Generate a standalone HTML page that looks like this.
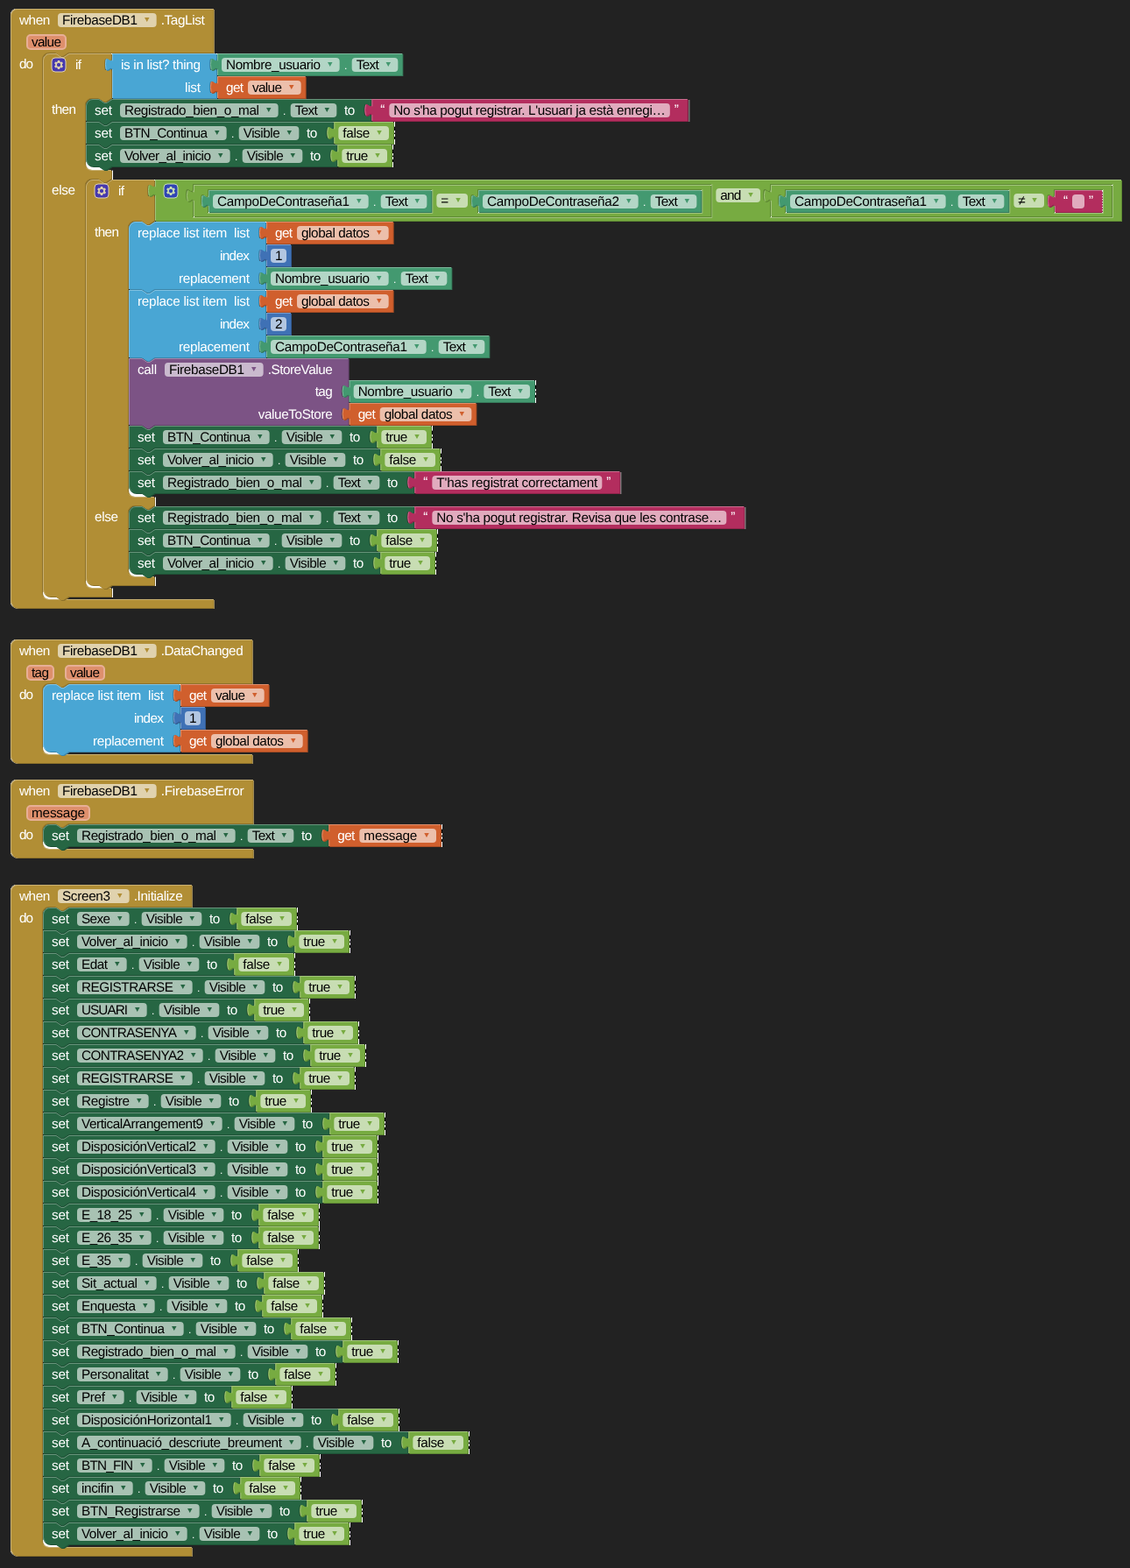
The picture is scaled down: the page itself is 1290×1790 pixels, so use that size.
<!DOCTYPE html>
<html lang="ca">
<head>
<meta charset="utf-8">
<title>Blocks</title>
<style>
html,body{margin:0;padding:0;background:#222222;}
body{width:1290px;height:1790px;overflow:hidden;}
svg{display:block;}
text{font-family:"Liberation Sans",sans-serif;font-size:15.3px;white-space:pre;text-rendering:geometricPrecision;}
.w{fill:#fff;}
.dot{font-size:12px;}
.k{fill:#000;}
.a{font-family:"DejaVu Sans","Liberation Sans",sans-serif;font-size:11px;}
.e{fill:#fff;fill-opacity:.6;}
.p{fill:rgb(222,143,108);stroke:rgb(231,175,150);stroke-width:2;}
.l{fill:none;stroke-linecap:round;stroke-width:1;}
.ic{opacity:.6;}
.is{fill:#00f;stroke:#fff;stroke-width:1px;}
.iy{fill:#fff;}
.dsh{fill:none;stroke:#fff;stroke-opacity:.75;stroke-width:1;stroke-dasharray:1.5 1.5;}
.pk{fill:#fff;}
.cs{fill:none;stroke:#fff;stroke-width:1.4;stroke-opacity:.7;stroke-linecap:butt;}
.wc{fill:#fff;}
.bc{fill:#000;}
.fc{fill:#fff;fill-opacity:.55;}
</style>
</head>
<body>
<svg width="1290" height="1790" viewBox="0 0 1290 1790">
<rect width="1290" height="1790" fill="#222222"/>
<g transform="translate(12,10)"><path class="pk" d="m 0,8 A 8,8 0 0,1 8,0 H 231.67 v 25 v 25 H 66 l -6,4 -3,0 -6,-4 h -7 a 8,8 0 0,0 -8,8 v 608 a 8,8 0 0,0 8,8 H 231.67 v 10 H 8 a 8,8 0 0,1 -8,-8 z "/><path class="pk" transform="translate(1,1)" d="m 0,8 A 8,8 0 0,1 8,0 H 231.67 v 25 v 25 H 66 l -6,4 -3,0 -6,-4 h -7 a 8,8 0 0,0 -8,8 v 608 a 8,8 0 0,0 8,8 H 231.67 v 10 H 8 a 8,8 0 0,1 -8,-8 z "/><path class="cs" d="M 0.48,5.26 A 8,8 0 0,1 5.26,0.48 M 5.26,683.52 A 8,8 0 0,1 0.48,678.74"/><rect class="pk" x="36" y="661" width="23" height="13.5"/><path class="d" fill="rgb(142,114,42)" transform="translate(1,1)" d="m 0,8 A 8,8 0 0,1 8,0 H 231.67 v 25 v 25 H 66 l -6,4 -3,0 -6,-4 h -7 a 8,8 0 0,0 -8,8 v 608 a 8,8 0 0,0 8,8 H 231.67 v 10 H 8 a 8,8 0 0,1 -8,-8 z "/><path fill="#B18E35" d="m 0,8 A 8,8 0 0,1 8,0 H 231.67 v 25 v 25 H 66 l -6,4 -3,0 -6,-4 h -7 a 8,8 0 0,0 -8,8 v 608 a 8,8 0 0,0 8,8 H 231.67 v 10 H 8 a 8,8 0 0,1 -8,-8 z "/><path class="l" stroke="rgb(200,176,114)" d="m 0.5,7.5 A 7.5,7.5 0 0,1 8,0.5 H 231.17 M 231.17,0.5 M 231.17,25.5 M 231.17,50.5 M 37.99,672.01 a 8.5,8.5 0 0,0 6.0104076400856545,2.4895923599143455 H 231.17 M 2.7,681.3 A 7.5,7.5 0 0,1 0.5,676 V 8 "/><text class="w" x="10" y="18" textLength="39">when </text><rect class="e" x="54" y="5" width="112.67" height="16" rx="4" ry="4"/><text class="k" x="59" y="18" textLength="86">FirebaseDB1</text><text class="a" fill="#B18E35" transform="translate(152.9,15.05) scale(1,0.9)">▾</text><text class="w" x="171.67" y="18" textLength="50">.TagList</text><text class="w" x="10" y="43"> </text><rect class="p" x="19" y="30" width="44" height="16" rx="4" ry="4"/><text class="k" x="24" y="43" textLength="34">value</text><text class="w" x="68" y="43"> </text><text class="w" x="10" y="68" textLength="16">do</text><g transform="translate(37,51)"><rect class="pk" x="78" y="0" width="1" height="1"/><rect class="pk" x="48" y="120" width="23" height="13.5"/><rect class="pk" x="48" y="597" width="23" height="13.5"/><path class="d" fill="rgb(142,114,42)" transform="translate(1,1)" d="m 0,8 A 8,8 0 0,1 8,0 H 15 l 6,4 3,0 6,-4 H 78 v 5 c 0,10 -8,-8 -8,7.5 s 8,-2.5 8,7.5 v 31 H 78 l -6,4 -3,0 -6,-4 h -7 a 8,8 0 0,0 -8,8 v 66 a 8,8 0 0,0 8,8 H 78 v 10 H 78 l -6,4 -3,0 -6,-4 h -7 a 8,8 0 0,0 -8,8 v 451 a 8,8 0 0,0 8,8 H 78 v 10 H 29.5 l -6,4 -3,0 -6,-4 H 8 a 8,8 0 0,1 -8,-8 z "/><path fill="#B18E35" d="m 0,8 A 8,8 0 0,1 8,0 H 15 l 6,4 3,0 6,-4 H 78 v 5 c 0,10 -8,-8 -8,7.5 s 8,-2.5 8,7.5 v 31 H 78 l -6,4 -3,0 -6,-4 h -7 a 8,8 0 0,0 -8,8 v 66 a 8,8 0 0,0 8,8 H 78 v 10 H 78 l -6,4 -3,0 -6,-4 h -7 a 8,8 0 0,0 -8,8 v 451 a 8,8 0 0,0 8,8 H 78 v 10 H 29.5 l -6,4 -3,0 -6,-4 H 8 a 8,8 0 0,1 -8,-8 z "/><path class="l" stroke="rgb(200,176,114)" d="m 0.5,7.5 A 7.5,7.5 0 0,1 8,0.5 H 15 l 6,4 3,0 6,-4 H 77.5 M 77.5,0.5 M 73,19.3 l 3.68,-2.1 M 77.5,51.5 M 49.99,131.01 a 8.5,8.5 0 0,0 6.0104076400856545,2.4895923599143455 H 77.5 M 77.5,143.5 M 49.99,608.01 a 8.5,8.5 0 0,0 6.0104076400856545,2.4895923599143455 H 77.5 M 2.7,617.3 A 7.5,7.5 0 0,1 0.5,612 V 8 "/><text class="w" x="37" y="18" textLength="7">if</text><text class="w" x="10" y="69" textLength="28">then</text><text class="w" x="10" y="161" textLength="27">else</text><g class="ic" transform="translate(10,5)"><rect class="is" rx="4" ry="4" height="16" width="16"/><path class="iy" d="m4.203,7.296 0,1.368 -0.92,0.677 -0.11,0.41 0.9,1.559 0.41,0.11 1.043,-0.457 1.187,0.683 0.127,1.134 0.3,0.3 1.8,0 0.3,-0.299 0.127,-1.138 1.185,-0.682 1.046,0.458 0.409,-0.11 0.9,-1.559 -0.11,-0.41 -0.92,-0.677 0,-1.366 0.92,-0.677 0.11,-0.41 -0.9,-1.559 -0.409,-0.109 -1.046,0.458 -1.185,-0.682 -0.127,-1.138 -0.3,-0.299 -1.8,0 -0.3,0.3 -0.126,1.135 -1.187,0.682 -1.043,-0.457 -0.41,0.11 -0.899,1.559 0.108,0.409z"/><circle class="is" r="2.7" cx="8" cy="8"/></g><rect class="wc" x="79" y="133.5" width="1" height="10.5"/><rect class="wc" x="79" y="610.5" width="1" height="10.5"/><g transform="translate(79,0)"><rect class="pk" x="119" y="0" width="1" height="1"/><rect class="pk" x="119" y="26" width="1" height="1"/><path class="d" fill="rgb(58,133,170)" transform="translate(1,1)" d="m 0,0 H 119 v 5 c 0,10 -8,-8 -8,7.5 s 8,-2.5 8,7.5 v 6 v 5 c 0,10 -8,-8 -8,7.5 s 8,-2.5 8,7.5 v 5 H 0 V 20 c 0,-10 -8,8 -8,-7.5 s 8,2.5 8,-7.5 z "/><path fill="#49A6D4" d="m 0,0 H 119 v 5 c 0,10 -8,-8 -8,7.5 s 8,-2.5 8,7.5 v 6 v 5 c 0,10 -8,-8 -8,7.5 s 8,-2.5 8,7.5 v 5 H 0 V 20 c 0,-10 -8,8 -8,-7.5 s 8,2.5 8,-7.5 z "/><path class="l" stroke="rgb(128,193,225)" d="m 0.5,0.5 H 118.5 M 118.5,0.5 M 114,19.3 l 3.68,-2.1 M 118.5,26.5 M 114,45.3 l 3.68,-2.1 M 0.5,50.5 V 18.5 m -7.36,-0.5 q -1.52,-5.5 0,-11 m 7.36,1 V 0.5 H 1 "/><text class="w" x="10" y="18" textLength="91">is in list? thing</text><text class="w" x="83" y="44" textLength="18">list</text><g transform="translate(120,0)"><path class="d" fill="rgb(54,122,90)" transform="translate(1,1)" d="m 0,0 H 211.33 v 25 H 0 V 20 c 0,-10 -8,8 -8,-7.5 s 8,2.5 8,-7.5 z "/><path fill="#439970" d="m 0,0 H 211.33 v 25 H 0 V 20 c 0,-10 -8,8 -8,-7.5 s 8,2.5 8,-7.5 z "/><path class="l" stroke="rgb(123,184,155)" d="m 0.5,0.5 H 210.83 M 210.83,0.5 M 0.5,24.5 V 18.5 m -7.36,-0.5 q -1.52,-5.5 0,-11 m 7.36,1 V 0.5 H 1 "/><rect class="e" x="5" y="5" width="134.67" height="16" rx="4" ry="4"/><text class="k" x="10" y="18" textLength="108">Nombre_usuario</text><text class="a" fill="#439970" transform="translate(125.9,15.05) scale(1,0.9)">▾</text><text class="w dot" x="144.97" y="18">.</text><rect class="e" x="153.67" y="5" width="52.67" height="16" rx="4" ry="4"/><text class="k" x="158.67" y="18" textLength="26">Text</text><text class="a" fill="#439970" transform="translate(192.57,15.05) scale(1,0.9)">▾</text></g><g transform="translate(120,26)"><path class="d" fill="rgb(166,76,36)" transform="translate(1,1)" d="m 0,0 H 100.67 v 25 H 0 V 20 c 0,-10 -8,8 -8,-7.5 s 8,2.5 8,-7.5 z "/><path fill="#D05F2D" d="m 0,0 H 100.67 v 25 H 0 V 20 c 0,-10 -8,8 -8,-7.5 s 8,2.5 8,-7.5 z "/><path class="l" stroke="rgb(222,143,108)" d="m 0.5,0.5 H 100.17 M 100.17,0.5 M 0.5,24.5 V 18.5 m -7.36,-0.5 q -1.52,-5.5 0,-11 m 7.36,1 V 0.5 H 1 "/><text class="w" x="10" y="18" textLength="20">get</text><rect class="e" x="35" y="5" width="60.67" height="16" rx="4" ry="4"/><text class="k" x="40" y="18" textLength="34">value</text><text class="a" fill="#D05F2D" transform="translate(81.9,15.05) scale(1,0.9)">▾</text></g></g><g transform="translate(49,52)"><rect class="pk" x="325.33" y="0" width="1" height="1"/><path class="d" fill="rgb(30,82,54)" transform="translate(1,1)" d="m 0,8 A 8,8 0 0,1 8,0 H 15 l 6,4 3,0 6,-4 H 325.33 v 5 c 0,10 -8,-8 -8,7.5 s 8,-2.5 8,7.5 v 5 H 29.5 l -6,4 -3,0 -6,-4 H 0 z "/><path fill="#266643" d="m 0,8 A 8,8 0 0,1 8,0 H 15 l 6,4 3,0 6,-4 H 325.33 v 5 c 0,10 -8,-8 -8,7.5 s 8,-2.5 8,7.5 v 5 H 29.5 l -6,4 -3,0 -6,-4 H 0 z "/><path class="l" stroke="rgb(103,148,123)" d="m 0.5,7.5 A 7.5,7.5 0 0,1 8,0.5 H 15 l 6,4 3,0 6,-4 H 324.83 M 324.83,0.5 M 320.33,19.3 l 3.68,-2.1 M 0.5,24.5 V 8 "/><text class="w" x="10" y="18" textLength="24">set </text><rect class="e" x="39" y="5" width="180.67" height="16" rx="4" ry="4"/><text class="k" x="44" y="18" textLength="154">Registrado_bien_o_mal</text><text class="a" fill="#266643" transform="translate(205.9,15.05) scale(1,0.9)">▾</text><text class="w dot" x="224.97" y="18">.</text><rect class="e" x="233.67" y="5" width="52.67" height="16" rx="4" ry="4"/><text class="k" x="238.67" y="18" textLength="26">Text</text><text class="a" fill="#266643" transform="translate(272.57,15.05) scale(1,0.9)">▾</text><text class="w" x="291.33" y="18" textLength="16"> to</text><g transform="translate(326.33,0)"><path class="d" fill="rgb(143,36,75)" transform="translate(1,1)" d="m 0,0 H 360.5 v 25 H 0 V 20 c 0,-10 -8,8 -8,-7.5 s 8,2.5 8,-7.5 z "/><path fill="#B32D5E" d="m 0,0 H 360.5 v 25 H 0 V 20 c 0,-10 -8,8 -8,-7.5 s 8,2.5 8,-7.5 z "/><path class="l" stroke="rgb(202,108,142)" d="m 0.5,0.5 H 360 M 360,0.5 M 0.5,24.5 V 18.5 m -7.36,-0.5 q -1.52,-5.5 0,-11 m 7.36,1 V 0.5 H 1 "/><text class="w" x="10" y="16.7">“</text><rect class="e" x="20" y="5" width="320.5" height="16" rx="4" ry="4"/><text class="k" x="25" y="18" textLength="310.5">No s'ha pogut registrar. L'usuari ja està enregi…</text><text class="w" x="345.5" y="16.7">”</text><rect class="fc" x="362" y="1" width="1" height="25"/></g><g transform="translate(0,26)"><rect class="pk" x="282.33" y="0" width="1" height="1"/><path class="d" fill="rgb(30,82,54)" transform="translate(1,1)" d="m 0,0 H 15 l 6,4 3,0 6,-4 H 282.33 v 5 c 0,10 -8,-8 -8,7.5 s 8,-2.5 8,7.5 v 5 H 29.5 l -6,4 -3,0 -6,-4 H 0 z "/><path fill="#266643" d="m 0,0 H 15 l 6,4 3,0 6,-4 H 282.33 v 5 c 0,10 -8,-8 -8,7.5 s 8,-2.5 8,7.5 v 5 H 29.5 l -6,4 -3,0 -6,-4 H 0 z "/><path class="l" stroke="rgb(103,148,123)" d="m 0.5,0.5 H 15 l 6,4 3,0 6,-4 H 281.83 M 281.83,0.5 M 277.33,19.3 l 3.68,-2.1 M 0.5,24.5 V 0.5 "/><text class="w" x="10" y="18" textLength="24">set </text><rect class="e" x="39" y="5" width="121.67" height="16" rx="4" ry="4"/><text class="k" x="44" y="18" textLength="95">BTN_Continua</text><text class="a" fill="#266643" transform="translate(146.9,15.05) scale(1,0.9)">▾</text><text class="w dot" x="165.97" y="18">.</text><rect class="e" x="174.67" y="5" width="68.67" height="16" rx="4" ry="4"/><text class="k" x="179.67" y="18" textLength="42">Visible</text><text class="a" fill="#266643" transform="translate(229.57,15.05) scale(1,0.9)">▾</text><text class="w" x="248.33" y="18" textLength="16"> to</text><g transform="translate(283.33,0)"><path class="d" fill="rgb(95,137,52)" transform="translate(1,1)" d="m 0,0 H 67.67 v 25 H 0 V 20 c 0,-10 -8,8 -8,-7.5 s 8,2.5 8,-7.5 z "/><path fill="#77AB41" d="m 0,0 H 67.67 v 25 H 0 V 20 c 0,-10 -8,8 -8,-7.5 s 8,2.5 8,-7.5 z "/><path class="l" stroke="rgb(160,196,122)" d="m 0.5,0.5 H 67.17 M 67.17,0.5 M 0.5,24.5 V 18.5 m -7.36,-0.5 q -1.52,-5.5 0,-11 m 7.36,1 V 0.5 H 1 "/><rect class="e" x="5" y="5" width="57.67" height="16" rx="4" ry="4"/><text class="k" x="10" y="18" textLength="31">false</text><text class="a" fill="#77AB41" transform="translate(48.9,15.05) scale(1,0.9)">▾</text><rect class="wc" x="68.67" y="0" width="1" height="5.8"/><rect class="bc" x="68.67" y="5.8" width="1" height="4.2"/><rect class="wc" x="68.67" y="10" width="1" height="2.8"/><rect class="bc" x="68.67" y="12.8" width="1" height="1.2"/><rect class="wc" x="68.67" y="14" width="1" height="3"/><rect class="bc" x="68.67" y="17" width="1" height="3"/><rect class="wc" x="68.67" y="20" width="1" height="6"/></g><g transform="translate(0,26)"><rect class="pk" x="286.33" y="0" width="1" height="1"/><path class="d" fill="rgb(30,82,54)" transform="translate(1,1)" d="m 0,0 H 15 l 6,4 3,0 6,-4 H 286.33 v 5 c 0,10 -8,-8 -8,7.5 s 8,-2.5 8,7.5 v 5 H 29.5 l -6,4 -3,0 -6,-4 H 8 a 8,8 0 0,1 -8,-8 z "/><path fill="#266643" d="m 0,0 H 15 l 6,4 3,0 6,-4 H 286.33 v 5 c 0,10 -8,-8 -8,7.5 s 8,-2.5 8,7.5 v 5 H 29.5 l -6,4 -3,0 -6,-4 H 8 a 8,8 0 0,1 -8,-8 z "/><path class="l" stroke="rgb(103,148,123)" d="m 0.5,0.5 H 15 l 6,4 3,0 6,-4 H 285.83 M 285.83,0.5 M 281.33,19.3 l 3.68,-2.1 M 2.7,22.3 A 7.5,7.5 0 0,1 0.5,17 V 0.5 "/><text class="w" x="10" y="18" textLength="24">set </text><rect class="e" x="39" y="5" width="125.67" height="16" rx="4" ry="4"/><text class="k" x="44" y="18" textLength="99">Volver_al_inicio</text><text class="a" fill="#266643" transform="translate(150.9,15.05) scale(1,0.9)">▾</text><text class="w dot" x="169.97" y="18">.</text><rect class="e" x="178.67" y="5" width="68.67" height="16" rx="4" ry="4"/><text class="k" x="183.67" y="18" textLength="42">Visible</text><text class="a" fill="#266643" transform="translate(233.57,15.05) scale(1,0.9)">▾</text><text class="w" x="252.33" y="18" textLength="16"> to</text><g transform="translate(287.33,0)"><path class="d" fill="rgb(95,137,52)" transform="translate(1,1)" d="m 0,0 H 61.67 v 25 H 0 V 20 c 0,-10 -8,8 -8,-7.5 s 8,2.5 8,-7.5 z "/><path fill="#77AB41" d="m 0,0 H 61.67 v 25 H 0 V 20 c 0,-10 -8,8 -8,-7.5 s 8,2.5 8,-7.5 z "/><path class="l" stroke="rgb(160,196,122)" d="m 0.5,0.5 H 61.17 M 61.17,0.5 M 0.5,24.5 V 18.5 m -7.36,-0.5 q -1.52,-5.5 0,-11 m 7.36,1 V 0.5 H 1 "/><rect class="e" x="5" y="5" width="51.67" height="16" rx="4" ry="4"/><text class="k" x="10" y="18" textLength="25">true</text><text class="a" fill="#77AB41" transform="translate(42.9,15.05) scale(1,0.9)">▾</text><rect class="wc" x="62.67" y="0" width="1" height="5.8"/><rect class="bc" x="62.67" y="5.8" width="1" height="4.2"/><rect class="wc" x="62.67" y="10" width="1" height="2.8"/><rect class="bc" x="62.67" y="12.8" width="1" height="1.2"/><rect class="wc" x="62.67" y="14" width="1" height="3"/><rect class="bc" x="62.67" y="17" width="1" height="3"/><rect class="wc" x="62.67" y="20" width="1" height="6"/></g></g></g></g><g transform="translate(49,144)"><rect class="pk" x="78" y="0" width="1" height="1"/><rect class="pk" x="48" y="349" width="23" height="13.5"/><rect class="pk" x="48" y="440" width="23" height="13.5"/><path class="d" fill="rgb(142,114,42)" transform="translate(1,1)" d="m 0,8 A 8,8 0 0,1 8,0 H 15 l 6,4 3,0 6,-4 H 78 v 5 c 0,10 -8,-8 -8,7.5 s 8,-2.5 8,7.5 v 27 H 78 l -6,4 -3,0 -6,-4 h -7 a 8,8 0 0,0 -8,8 v 299 a 8,8 0 0,0 8,8 H 78 v 10 H 78 l -6,4 -3,0 -6,-4 h -7 a 8,8 0 0,0 -8,8 v 65 a 8,8 0 0,0 8,8 H 78 v 10 H 29.5 l -6,4 -3,0 -6,-4 H 8 a 8,8 0 0,1 -8,-8 z "/><path fill="#B18E35" d="m 0,8 A 8,8 0 0,1 8,0 H 15 l 6,4 3,0 6,-4 H 78 v 5 c 0,10 -8,-8 -8,7.5 s 8,-2.5 8,7.5 v 27 H 78 l -6,4 -3,0 -6,-4 h -7 a 8,8 0 0,0 -8,8 v 299 a 8,8 0 0,0 8,8 H 78 v 10 H 78 l -6,4 -3,0 -6,-4 h -7 a 8,8 0 0,0 -8,8 v 65 a 8,8 0 0,0 8,8 H 78 v 10 H 29.5 l -6,4 -3,0 -6,-4 H 8 a 8,8 0 0,1 -8,-8 z "/><path class="l" stroke="rgb(200,176,114)" d="m 0.5,7.5 A 7.5,7.5 0 0,1 8,0.5 H 15 l 6,4 3,0 6,-4 H 77.5 M 77.5,0.5 M 73,19.3 l 3.68,-2.1 M 77.5,47.5 M 49.99,360.01 a 8.5,8.5 0 0,0 6.0104076400856545,2.4895923599143455 H 77.5 M 77.5,372.5 M 49.99,451.01 a 8.5,8.5 0 0,0 6.0104076400856545,2.4895923599143455 H 77.5 M 2.7,460.3 A 7.5,7.5 0 0,1 0.5,455 V 8 "/><text class="w" x="37" y="18" textLength="7">if</text><text class="w" x="10" y="65" textLength="28">then</text><text class="w" x="10" y="390" textLength="27">else</text><g class="ic" transform="translate(10,5)"><rect class="is" rx="4" ry="4" height="16" width="16"/><path class="iy" d="m4.203,7.296 0,1.368 -0.92,0.677 -0.11,0.41 0.9,1.559 0.41,0.11 1.043,-0.457 1.187,0.683 0.127,1.134 0.3,0.3 1.8,0 0.3,-0.299 0.127,-1.138 1.185,-0.682 1.046,0.458 0.409,-0.11 0.9,-1.559 -0.11,-0.41 -0.92,-0.677 0,-1.366 0.92,-0.677 0.11,-0.41 -0.9,-1.559 -0.409,-0.109 -1.046,0.458 -1.185,-0.682 -0.127,-1.138 -0.3,-0.299 -1.8,0 -0.3,0.3 -0.126,1.135 -1.187,0.682 -1.043,-0.457 -0.41,0.11 -0.899,1.559 0.108,0.409z"/><circle class="is" r="2.7" cx="8" cy="8"/></g><rect class="wc" x="79" y="362.5" width="1" height="10.5"/><rect class="wc" x="79" y="453.5" width="1" height="10.5"/><g transform="translate(79,0)"><rect class="pk" x="43" y="5" width="592.33" height="38"/><rect class="pk" x="702" y="5" width="391" height="38"/><path class="d" fill="rgb(95,137,52)" transform="translate(1,1)" d="m 0,0 H 47 H 1103 v 47 H 0 V 20 c 0,-10 -8,8 -8,-7.5 s 8,2.5 8,-7.5 z M 635.33,5 h -592.33 v 5 c 0,10 -8,-8 -8,7.5 s 8,-2.5 8,7.5 v 18 h 592.33 z M 1093,5 h -391 v 5 c 0,10 -8,-8 -8,7.5 s 8,-2.5 8,7.5 v 18 h 391 z"/><path fill="#77AB41" d="m 0,0 H 47 H 1103 v 47 H 0 V 20 c 0,-10 -8,8 -8,-7.5 s 8,2.5 8,-7.5 z M 635.33,5 h -592.33 v 5 c 0,10 -8,-8 -8,7.5 s 8,-2.5 8,7.5 v 18 h 592.33 z M 1093,5 h -391 v 5 c 0,10 -8,-8 -8,7.5 s 8,-2.5 8,7.5 v 18 h 391 z"/><path class="l" stroke="rgb(160,196,122)" d="m 0.5,0.5 H 46.5 M 46.5,0.5 H 1102.5 M 0.5,46.5 V 18.5 m -7.36,-0.5 q -1.52,-5.5 0,-11 m 7.36,1 V 0.5 H 1 M 635.83,5.5 v 38 h -592.33 M 37.9,24.3 l 3.68,-2.1 M 1093.5,5.5 v 38 h -391 M 696.9,24.3 l 3.68,-2.1"/><rect class="e" x="640.33" y="10" width="50.67" height="16" rx="4" ry="4"/><text class="k" x="645.33" y="23" textLength="24">and</text><text class="a" fill="#77AB41" transform="translate(677.23,20.05) scale(1,0.9)">▾</text><g class="ic" transform="translate(10,5)"><rect class="is" rx="4" ry="4" height="16" width="16"/><path class="iy" d="m4.203,7.296 0,1.368 -0.92,0.677 -0.11,0.41 0.9,1.559 0.41,0.11 1.043,-0.457 1.187,0.683 0.127,1.134 0.3,0.3 1.8,0 0.3,-0.299 0.127,-1.138 1.185,-0.682 1.046,0.458 0.409,-0.11 0.9,-1.559 -0.11,-0.41 -0.92,-0.677 0,-1.366 0.92,-0.677 0.11,-0.41 -0.9,-1.559 -0.409,-0.109 -1.046,0.458 -1.185,-0.682 -0.127,-1.138 -0.3,-0.299 -1.8,0 -0.3,0.3 -0.126,1.135 -1.187,0.682 -1.043,-0.457 -0.41,0.11 -0.899,1.559 0.108,0.409z"/><circle class="is" r="2.7" cx="8" cy="8"/></g><g transform="translate(44,6)"><rect class="pk" x="16" y="5" width="256.33" height="27"/><rect class="pk" x="324" y="5" width="256.33" height="27"/><path class="d" fill="rgb(95,137,52)" transform="translate(1,1)" d="m 0,0 H 20 H 590.33 v 36 H 0 V 20 c 0,-10 -8,8 -8,-7.5 s 8,2.5 8,-7.5 z M 272.33,5 h -256.33 v 5 c 0,10 -8,-8 -8,7.5 s 8,-2.5 8,7.5 v 7 h 256.33 z M 580.33,5 h -256.33 v 5 c 0,10 -8,-8 -8,7.5 s 8,-2.5 8,7.5 v 7 h 256.33 z"/><path fill="#77AB41" d="m 0,0 H 20 H 590.33 v 36 H 0 V 20 c 0,-10 -8,8 -8,-7.5 s 8,2.5 8,-7.5 z M 272.33,5 h -256.33 v 5 c 0,10 -8,-8 -8,7.5 s 8,-2.5 8,7.5 v 7 h 256.33 z M 580.33,5 h -256.33 v 5 c 0,10 -8,-8 -8,7.5 s 8,-2.5 8,7.5 v 7 h 256.33 z"/><path class="l" stroke="rgb(160,196,122)" d="m 0.5,0.5 H 19.5 M 19.5,0.5 H 589.83 M 0.5,35.5 V 18.5 m -7.36,-0.5 q -1.52,-5.5 0,-11 m 7.36,1 V 0.5 H 1 M 272.83,5.5 v 27 h -256.33 M 10.9,24.3 l 3.68,-2.1 M 580.83,5.5 v 27 h -256.33 M 318.9,24.3 l 3.68,-2.1"/><rect class="e" x="277.33" y="10" width="35.67" height="16" rx="4" ry="4"/><text class="k" x="282.33" y="23">=</text><text class="a" fill="#77AB41" transform="translate(299.23,20.05) scale(1,0.9)">▾</text><g transform="translate(17,6)"><path class="d" fill="rgb(54,122,90)" transform="translate(1,1)" d="m 0,0 H 254.33 v 25 H 0 V 20 c 0,-10 -8,8 -8,-7.5 s 8,2.5 8,-7.5 z "/><path fill="#439970" d="m 0,0 H 254.33 v 25 H 0 V 20 c 0,-10 -8,8 -8,-7.5 s 8,2.5 8,-7.5 z "/><path class="l" stroke="rgb(123,184,155)" d="m 0.5,0.5 H 253.83 M 253.83,0.5 M 0.5,24.5 V 18.5 m -7.36,-0.5 q -1.52,-5.5 0,-11 m 7.36,1 V 0.5 H 1 "/><rect class="e" x="5" y="5" width="177.67" height="16" rx="4" ry="4"/><text class="k" x="10" y="18" textLength="151">CampoDeContraseña1</text><text class="a" fill="#439970" transform="translate(168.9,15.05) scale(1,0.9)">▾</text><text class="w dot" x="187.97" y="18">.</text><rect class="e" x="196.67" y="5" width="52.67" height="16" rx="4" ry="4"/><text class="k" x="201.67" y="18" textLength="26">Text</text><text class="a" fill="#439970" transform="translate(235.57,15.05) scale(1,0.9)">▾</text></g><g transform="translate(325,6)"><path class="d" fill="rgb(54,122,90)" transform="translate(1,1)" d="m 0,0 H 254.33 v 25 H 0 V 20 c 0,-10 -8,8 -8,-7.5 s 8,2.5 8,-7.5 z "/><path fill="#439970" d="m 0,0 H 254.33 v 25 H 0 V 20 c 0,-10 -8,8 -8,-7.5 s 8,2.5 8,-7.5 z "/><path class="l" stroke="rgb(123,184,155)" d="m 0.5,0.5 H 253.83 M 253.83,0.5 M 0.5,24.5 V 18.5 m -7.36,-0.5 q -1.52,-5.5 0,-11 m 7.36,1 V 0.5 H 1 "/><rect class="e" x="5" y="5" width="177.67" height="16" rx="4" ry="4"/><text class="k" x="10" y="18" textLength="151">CampoDeContraseña2</text><text class="a" fill="#439970" transform="translate(168.9,15.05) scale(1,0.9)">▾</text><text class="w dot" x="187.97" y="18">.</text><rect class="e" x="196.67" y="5" width="52.67" height="16" rx="4" ry="4"/><text class="k" x="201.67" y="18" textLength="26">Text</text><text class="a" fill="#439970" transform="translate(235.57,15.05) scale(1,0.9)">▾</text></g></g><g transform="translate(703,6)"><rect class="pk" x="16" y="5" width="256.33" height="27"/><rect class="pk" x="323" y="5" width="56" height="27"/><path class="d" fill="rgb(95,137,52)" transform="translate(1,1)" d="m 0,0 H 20 H 389 v 36 H 0 V 20 c 0,-10 -8,8 -8,-7.5 s 8,2.5 8,-7.5 z M 272.33,5 h -256.33 v 5 c 0,10 -8,-8 -8,7.5 s 8,-2.5 8,7.5 v 7 h 256.33 z M 379,5 h -56 v 5 c 0,10 -8,-8 -8,7.5 s 8,-2.5 8,7.5 v 7 h 56 z"/><path fill="#77AB41" d="m 0,0 H 20 H 389 v 36 H 0 V 20 c 0,-10 -8,8 -8,-7.5 s 8,2.5 8,-7.5 z M 272.33,5 h -256.33 v 5 c 0,10 -8,-8 -8,7.5 s 8,-2.5 8,7.5 v 7 h 256.33 z M 379,5 h -56 v 5 c 0,10 -8,-8 -8,7.5 s 8,-2.5 8,7.5 v 7 h 56 z"/><path class="l" stroke="rgb(160,196,122)" d="m 0.5,0.5 H 19.5 M 19.5,0.5 H 388.5 M 0.5,35.5 V 18.5 m -7.36,-0.5 q -1.52,-5.5 0,-11 m 7.36,1 V 0.5 H 1 M 272.83,5.5 v 27 h -256.33 M 10.9,24.3 l 3.68,-2.1 M 379.5,5.5 v 27 h -56 M 317.9,24.3 l 3.68,-2.1"/><rect class="e" x="277.33" y="10" width="34.67" height="16" rx="4" ry="4"/><text class="k" x="282.33" y="23">≠</text><text class="a" fill="#77AB41" transform="translate(298.23,20.05) scale(1,0.9)">▾</text><g transform="translate(17,6)"><path class="d" fill="rgb(54,122,90)" transform="translate(1,1)" d="m 0,0 H 254.33 v 25 H 0 V 20 c 0,-10 -8,8 -8,-7.5 s 8,2.5 8,-7.5 z "/><path fill="#439970" d="m 0,0 H 254.33 v 25 H 0 V 20 c 0,-10 -8,8 -8,-7.5 s 8,2.5 8,-7.5 z "/><path class="l" stroke="rgb(123,184,155)" d="m 0.5,0.5 H 253.83 M 253.83,0.5 M 0.5,24.5 V 18.5 m -7.36,-0.5 q -1.52,-5.5 0,-11 m 7.36,1 V 0.5 H 1 "/><rect class="e" x="5" y="5" width="177.67" height="16" rx="4" ry="4"/><text class="k" x="10" y="18" textLength="151">CampoDeContraseña1</text><text class="a" fill="#439970" transform="translate(168.9,15.05) scale(1,0.9)">▾</text><text class="w dot" x="187.97" y="18">.</text><rect class="e" x="196.67" y="5" width="52.67" height="16" rx="4" ry="4"/><text class="k" x="201.67" y="18" textLength="26">Text</text><text class="a" fill="#439970" transform="translate(235.57,15.05) scale(1,0.9)">▾</text></g><g transform="translate(324,6)"><path class="d" fill="rgb(143,36,75)" transform="translate(1,1)" d="m 0,0 H 54 v 25 H 0 V 20 c 0,-10 -8,8 -8,-7.5 s 8,2.5 8,-7.5 z "/><path fill="#B32D5E" d="m 0,0 H 54 v 25 H 0 V 20 c 0,-10 -8,8 -8,-7.5 s 8,2.5 8,-7.5 z "/><path class="l" stroke="rgb(202,108,142)" d="m 0.5,0.5 H 53.5 M 53.5,0.5 M 0.5,24.5 V 18.5 m -7.36,-0.5 q -1.52,-5.5 0,-11 m 7.36,1 V 0.5 H 1 "/><text class="w" x="10" y="16.7">“</text><rect class="e" x="20" y="5" width="14" height="16" rx="4" ry="4"/><text class="k" x="25" y="18"> </text><text class="w" x="39" y="16.7">”</text><path class="dsh" d="M 54.5,1 v 25"/></g></g></g><g transform="translate(49,48)"><rect class="pk" x="156" y="0" width="1" height="1"/><rect class="pk" x="156" y="26" width="1" height="1"/><rect class="pk" x="156" y="52" width="1" height="1"/><path class="d" fill="rgb(58,133,170)" transform="translate(1,1)" d="m 0,8 A 8,8 0 0,1 8,0 H 15 l 6,4 3,0 6,-4 H 156 v 5 c 0,10 -8,-8 -8,7.5 s 8,-2.5 8,7.5 v 6 v 5 c 0,10 -8,-8 -8,7.5 s 8,-2.5 8,7.5 v 6 v 5 c 0,10 -8,-8 -8,7.5 s 8,-2.5 8,7.5 v 5 H 29.5 l -6,4 -3,0 -6,-4 H 0 z "/><path fill="#49A6D4" d="m 0,8 A 8,8 0 0,1 8,0 H 15 l 6,4 3,0 6,-4 H 156 v 5 c 0,10 -8,-8 -8,7.5 s 8,-2.5 8,7.5 v 6 v 5 c 0,10 -8,-8 -8,7.5 s 8,-2.5 8,7.5 v 6 v 5 c 0,10 -8,-8 -8,7.5 s 8,-2.5 8,7.5 v 5 H 29.5 l -6,4 -3,0 -6,-4 H 0 z "/><path class="l" stroke="rgb(128,193,225)" d="m 0.5,7.5 A 7.5,7.5 0 0,1 8,0.5 H 15 l 6,4 3,0 6,-4 H 155.5 M 155.5,0.5 M 151,19.3 l 3.68,-2.1 M 155.5,26.5 M 151,45.3 l 3.68,-2.1 M 155.5,52.5 M 151,71.3 l 3.68,-2.1 M 0.5,76.5 V 8 "/><text class="w" x="10" y="18" textLength="128">replace list item  list</text><text class="w" x="104" y="44" textLength="34">index</text><text class="w" x="57" y="70" textLength="81">replacement</text><g transform="translate(157,0)"><path class="d" fill="rgb(166,76,36)" transform="translate(1,1)" d="m 0,0 H 144.67 v 25 H 0 V 20 c 0,-10 -8,8 -8,-7.5 s 8,2.5 8,-7.5 z "/><path fill="#D05F2D" d="m 0,0 H 144.67 v 25 H 0 V 20 c 0,-10 -8,8 -8,-7.5 s 8,2.5 8,-7.5 z "/><path class="l" stroke="rgb(222,143,108)" d="m 0.5,0.5 H 144.17 M 144.17,0.5 M 0.5,24.5 V 18.5 m -7.36,-0.5 q -1.52,-5.5 0,-11 m 7.36,1 V 0.5 H 1 "/><text class="w" x="10" y="18" textLength="20">get</text><rect class="e" x="35" y="5" width="104.67" height="16" rx="4" ry="4"/><text class="k" x="40" y="18" textLength="78">global datos</text><text class="a" fill="#D05F2D" transform="translate(125.9,15.05) scale(1,0.9)">▾</text></g><g transform="translate(157,26)"><path class="d" fill="rgb(50,90,145)" transform="translate(1,1)" d="m 0,0 H 28 v 25 H 0 V 20 c 0,-10 -8,8 -8,-7.5 s 8,2.5 8,-7.5 z "/><path fill="#3F71B5" d="m 0,0 H 28 v 25 H 0 V 20 c 0,-10 -8,8 -8,-7.5 s 8,2.5 8,-7.5 z "/><path class="l" stroke="rgb(121,156,203)" d="m 0.5,0.5 H 27.5 M 27.5,0.5 M 0.5,24.5 V 18.5 m -7.36,-0.5 q -1.52,-5.5 0,-11 m 7.36,1 V 0.5 H 1 "/><rect class="e" x="5" y="5" width="18" height="16" rx="4" ry="4"/><text class="k" x="10" y="18">1</text></g><g transform="translate(157,52)"><path class="d" fill="rgb(54,122,90)" transform="translate(1,1)" d="m 0,0 H 211.33 v 25 H 0 V 20 c 0,-10 -8,8 -8,-7.5 s 8,2.5 8,-7.5 z "/><path fill="#439970" d="m 0,0 H 211.33 v 25 H 0 V 20 c 0,-10 -8,8 -8,-7.5 s 8,2.5 8,-7.5 z "/><path class="l" stroke="rgb(123,184,155)" d="m 0.5,0.5 H 210.83 M 210.83,0.5 M 0.5,24.5 V 18.5 m -7.36,-0.5 q -1.52,-5.5 0,-11 m 7.36,1 V 0.5 H 1 "/><rect class="e" x="5" y="5" width="134.67" height="16" rx="4" ry="4"/><text class="k" x="10" y="18" textLength="108">Nombre_usuario</text><text class="a" fill="#439970" transform="translate(125.9,15.05) scale(1,0.9)">▾</text><text class="w dot" x="144.97" y="18">.</text><rect class="e" x="153.67" y="5" width="52.67" height="16" rx="4" ry="4"/><text class="k" x="158.67" y="18" textLength="26">Text</text><text class="a" fill="#439970" transform="translate(192.57,15.05) scale(1,0.9)">▾</text></g><g transform="translate(0,78)"><rect class="pk" x="156" y="0" width="1" height="1"/><rect class="pk" x="156" y="26" width="1" height="1"/><rect class="pk" x="156" y="52" width="1" height="1"/><path class="d" fill="rgb(58,133,170)" transform="translate(1,1)" d="m 0,0 H 15 l 6,4 3,0 6,-4 H 156 v 5 c 0,10 -8,-8 -8,7.5 s 8,-2.5 8,7.5 v 6 v 5 c 0,10 -8,-8 -8,7.5 s 8,-2.5 8,7.5 v 6 v 5 c 0,10 -8,-8 -8,7.5 s 8,-2.5 8,7.5 v 5 H 29.5 l -6,4 -3,0 -6,-4 H 0 z "/><path fill="#49A6D4" d="m 0,0 H 15 l 6,4 3,0 6,-4 H 156 v 5 c 0,10 -8,-8 -8,7.5 s 8,-2.5 8,7.5 v 6 v 5 c 0,10 -8,-8 -8,7.5 s 8,-2.5 8,7.5 v 6 v 5 c 0,10 -8,-8 -8,7.5 s 8,-2.5 8,7.5 v 5 H 29.5 l -6,4 -3,0 -6,-4 H 0 z "/><path class="l" stroke="rgb(128,193,225)" d="m 0.5,0.5 H 15 l 6,4 3,0 6,-4 H 155.5 M 155.5,0.5 M 151,19.3 l 3.68,-2.1 M 155.5,26.5 M 151,45.3 l 3.68,-2.1 M 155.5,52.5 M 151,71.3 l 3.68,-2.1 M 0.5,76.5 V 0.5 "/><text class="w" x="10" y="18" textLength="128">replace list item  list</text><text class="w" x="104" y="44" textLength="34">index</text><text class="w" x="57" y="70" textLength="81">replacement</text><g transform="translate(157,0)"><path class="d" fill="rgb(166,76,36)" transform="translate(1,1)" d="m 0,0 H 144.67 v 25 H 0 V 20 c 0,-10 -8,8 -8,-7.5 s 8,2.5 8,-7.5 z "/><path fill="#D05F2D" d="m 0,0 H 144.67 v 25 H 0 V 20 c 0,-10 -8,8 -8,-7.5 s 8,2.5 8,-7.5 z "/><path class="l" stroke="rgb(222,143,108)" d="m 0.5,0.5 H 144.17 M 144.17,0.5 M 0.5,24.5 V 18.5 m -7.36,-0.5 q -1.52,-5.5 0,-11 m 7.36,1 V 0.5 H 1 "/><text class="w" x="10" y="18" textLength="20">get</text><rect class="e" x="35" y="5" width="104.67" height="16" rx="4" ry="4"/><text class="k" x="40" y="18" textLength="78">global datos</text><text class="a" fill="#D05F2D" transform="translate(125.9,15.05) scale(1,0.9)">▾</text></g><g transform="translate(157,26)"><path class="d" fill="rgb(50,90,145)" transform="translate(1,1)" d="m 0,0 H 28 v 25 H 0 V 20 c 0,-10 -8,8 -8,-7.5 s 8,2.5 8,-7.5 z "/><path fill="#3F71B5" d="m 0,0 H 28 v 25 H 0 V 20 c 0,-10 -8,8 -8,-7.5 s 8,2.5 8,-7.5 z "/><path class="l" stroke="rgb(121,156,203)" d="m 0.5,0.5 H 27.5 M 27.5,0.5 M 0.5,24.5 V 18.5 m -7.36,-0.5 q -1.52,-5.5 0,-11 m 7.36,1 V 0.5 H 1 "/><rect class="e" x="5" y="5" width="18" height="16" rx="4" ry="4"/><text class="k" x="10" y="18">2</text></g><g transform="translate(157,52)"><path class="d" fill="rgb(54,122,90)" transform="translate(1,1)" d="m 0,0 H 254.33 v 25 H 0 V 20 c 0,-10 -8,8 -8,-7.5 s 8,2.5 8,-7.5 z "/><path fill="#439970" d="m 0,0 H 254.33 v 25 H 0 V 20 c 0,-10 -8,8 -8,-7.5 s 8,2.5 8,-7.5 z "/><path class="l" stroke="rgb(123,184,155)" d="m 0.5,0.5 H 253.83 M 253.83,0.5 M 0.5,24.5 V 18.5 m -7.36,-0.5 q -1.52,-5.5 0,-11 m 7.36,1 V 0.5 H 1 "/><rect class="e" x="5" y="5" width="177.67" height="16" rx="4" ry="4"/><text class="k" x="10" y="18" textLength="151">CampoDeContraseña1</text><text class="a" fill="#439970" transform="translate(168.9,15.05) scale(1,0.9)">▾</text><text class="w dot" x="187.97" y="18">.</text><rect class="e" x="196.67" y="5" width="52.67" height="16" rx="4" ry="4"/><text class="k" x="201.67" y="18" textLength="26">Text</text><text class="a" fill="#439970" transform="translate(235.57,15.05) scale(1,0.9)">▾</text></g><g transform="translate(0,78)"><rect class="pk" x="250.67" y="25" width="1" height="1"/><rect class="pk" x="250.67" y="51" width="1" height="1"/><path class="d" fill="rgb(99,66,106)" transform="translate(1,1)" d="m 0,0 H 15 l 6,4 3,0 6,-4 H 250.67 v 25 v 5 c 0,10 -8,-8 -8,7.5 s 8,-2.5 8,7.5 v 6 v 5 c 0,10 -8,-8 -8,7.5 s 8,-2.5 8,7.5 v 5 H 29.5 l -6,4 -3,0 -6,-4 H 0 z "/><path fill="#7C5385" d="m 0,0 H 15 l 6,4 3,0 6,-4 H 250.67 v 25 v 5 c 0,10 -8,-8 -8,7.5 s 8,-2.5 8,7.5 v 6 v 5 c 0,10 -8,-8 -8,7.5 s 8,-2.5 8,7.5 v 5 H 29.5 l -6,4 -3,0 -6,-4 H 0 z "/><path class="l" stroke="rgb(163,135,170)" d="m 0.5,0.5 H 15 l 6,4 3,0 6,-4 H 250.17 M 250.17,0.5 M 250.17,25.5 M 245.67,44.3 l 3.68,-2.1 M 250.17,51.5 M 245.67,70.3 l 3.68,-2.1 M 0.5,75.5 V 0.5 "/><text class="w" x="10" y="18" textLength="26">call </text><rect class="e" x="41" y="5" width="112.67" height="16" rx="4" ry="4"/><text class="k" x="46" y="18" textLength="86">FirebaseDB1</text><text class="a" fill="#7C5385" transform="translate(139.9,15.05) scale(1,0.9)">▾</text><text class="w" x="158.67" y="18" textLength="74">.StoreValue</text><text class="w" x="212.67" y="43" textLength="20">tag</text><text class="w" x="147.67" y="69" textLength="85">valueToStore</text><g transform="translate(251.67,25)"><path class="d" fill="rgb(54,122,90)" transform="translate(1,1)" d="m 0,0 H 211.33 v 25 H 0 V 20 c 0,-10 -8,8 -8,-7.5 s 8,2.5 8,-7.5 z "/><path fill="#439970" d="m 0,0 H 211.33 v 25 H 0 V 20 c 0,-10 -8,8 -8,-7.5 s 8,2.5 8,-7.5 z "/><path class="l" stroke="rgb(123,184,155)" d="m 0.5,0.5 H 210.83 M 210.83,0.5 M 0.5,24.5 V 18.5 m -7.36,-0.5 q -1.52,-5.5 0,-11 m 7.36,1 V 0.5 H 1 "/><rect class="e" x="5" y="5" width="134.67" height="16" rx="4" ry="4"/><text class="k" x="10" y="18" textLength="108">Nombre_usuario</text><text class="a" fill="#439970" transform="translate(125.9,15.05) scale(1,0.9)">▾</text><text class="w dot" x="144.97" y="18">.</text><rect class="e" x="153.67" y="5" width="52.67" height="16" rx="4" ry="4"/><text class="k" x="158.67" y="18" textLength="26">Text</text><text class="a" fill="#439970" transform="translate(192.57,15.05) scale(1,0.9)">▾</text><rect class="wc" x="212.33" y="0" width="1" height="5.8"/><rect class="bc" x="212.33" y="5.8" width="1" height="4.2"/><rect class="wc" x="212.33" y="10" width="1" height="2.8"/><rect class="bc" x="212.33" y="12.8" width="1" height="1.2"/><rect class="wc" x="212.33" y="14" width="1" height="3"/><rect class="bc" x="212.33" y="17" width="1" height="3"/><rect class="wc" x="212.33" y="20" width="1" height="6"/></g><g transform="translate(251.67,51)"><path class="d" fill="rgb(166,76,36)" transform="translate(1,1)" d="m 0,0 H 144.67 v 25 H 0 V 20 c 0,-10 -8,8 -8,-7.5 s 8,2.5 8,-7.5 z "/><path fill="#D05F2D" d="m 0,0 H 144.67 v 25 H 0 V 20 c 0,-10 -8,8 -8,-7.5 s 8,2.5 8,-7.5 z "/><path class="l" stroke="rgb(222,143,108)" d="m 0.5,0.5 H 144.17 M 144.17,0.5 M 0.5,24.5 V 18.5 m -7.36,-0.5 q -1.52,-5.5 0,-11 m 7.36,1 V 0.5 H 1 "/><text class="w" x="10" y="18" textLength="20">get</text><rect class="e" x="35" y="5" width="104.67" height="16" rx="4" ry="4"/><text class="k" x="40" y="18" textLength="78">global datos</text><text class="a" fill="#D05F2D" transform="translate(125.9,15.05) scale(1,0.9)">▾</text></g><g transform="translate(0,77)"><rect class="pk" x="282.33" y="0" width="1" height="1"/><path class="d" fill="rgb(30,82,54)" transform="translate(1,1)" d="m 0,0 H 15 l 6,4 3,0 6,-4 H 282.33 v 5 c 0,10 -8,-8 -8,7.5 s 8,-2.5 8,7.5 v 5 H 29.5 l -6,4 -3,0 -6,-4 H 0 z "/><path fill="#266643" d="m 0,0 H 15 l 6,4 3,0 6,-4 H 282.33 v 5 c 0,10 -8,-8 -8,7.5 s 8,-2.5 8,7.5 v 5 H 29.5 l -6,4 -3,0 -6,-4 H 0 z "/><path class="l" stroke="rgb(103,148,123)" d="m 0.5,0.5 H 15 l 6,4 3,0 6,-4 H 281.83 M 281.83,0.5 M 277.33,19.3 l 3.68,-2.1 M 0.5,24.5 V 0.5 "/><text class="w" x="10" y="18" textLength="24">set </text><rect class="e" x="39" y="5" width="121.67" height="16" rx="4" ry="4"/><text class="k" x="44" y="18" textLength="95">BTN_Continua</text><text class="a" fill="#266643" transform="translate(146.9,15.05) scale(1,0.9)">▾</text><text class="w dot" x="165.97" y="18">.</text><rect class="e" x="174.67" y="5" width="68.67" height="16" rx="4" ry="4"/><text class="k" x="179.67" y="18" textLength="42">Visible</text><text class="a" fill="#266643" transform="translate(229.57,15.05) scale(1,0.9)">▾</text><text class="w" x="248.33" y="18" textLength="16"> to</text><g transform="translate(283.33,0)"><path class="d" fill="rgb(95,137,52)" transform="translate(1,1)" d="m 0,0 H 61.67 v 25 H 0 V 20 c 0,-10 -8,8 -8,-7.5 s 8,2.5 8,-7.5 z "/><path fill="#77AB41" d="m 0,0 H 61.67 v 25 H 0 V 20 c 0,-10 -8,8 -8,-7.5 s 8,2.5 8,-7.5 z "/><path class="l" stroke="rgb(160,196,122)" d="m 0.5,0.5 H 61.17 M 61.17,0.5 M 0.5,24.5 V 18.5 m -7.36,-0.5 q -1.52,-5.5 0,-11 m 7.36,1 V 0.5 H 1 "/><rect class="e" x="5" y="5" width="51.67" height="16" rx="4" ry="4"/><text class="k" x="10" y="18" textLength="25">true</text><text class="a" fill="#77AB41" transform="translate(42.9,15.05) scale(1,0.9)">▾</text><rect class="wc" x="62.67" y="0" width="1" height="5.8"/><rect class="bc" x="62.67" y="5.8" width="1" height="4.2"/><rect class="wc" x="62.67" y="10" width="1" height="2.8"/><rect class="bc" x="62.67" y="12.8" width="1" height="1.2"/><rect class="wc" x="62.67" y="14" width="1" height="3"/><rect class="bc" x="62.67" y="17" width="1" height="3"/><rect class="wc" x="62.67" y="20" width="1" height="6"/></g><g transform="translate(0,26)"><rect class="pk" x="286.33" y="0" width="1" height="1"/><path class="d" fill="rgb(30,82,54)" transform="translate(1,1)" d="m 0,0 H 15 l 6,4 3,0 6,-4 H 286.33 v 5 c 0,10 -8,-8 -8,7.5 s 8,-2.5 8,7.5 v 5 H 29.5 l -6,4 -3,0 -6,-4 H 0 z "/><path fill="#266643" d="m 0,0 H 15 l 6,4 3,0 6,-4 H 286.33 v 5 c 0,10 -8,-8 -8,7.5 s 8,-2.5 8,7.5 v 5 H 29.5 l -6,4 -3,0 -6,-4 H 0 z "/><path class="l" stroke="rgb(103,148,123)" d="m 0.5,0.5 H 15 l 6,4 3,0 6,-4 H 285.83 M 285.83,0.5 M 281.33,19.3 l 3.68,-2.1 M 0.5,24.5 V 0.5 "/><text class="w" x="10" y="18" textLength="24">set </text><rect class="e" x="39" y="5" width="125.67" height="16" rx="4" ry="4"/><text class="k" x="44" y="18" textLength="99">Volver_al_inicio</text><text class="a" fill="#266643" transform="translate(150.9,15.05) scale(1,0.9)">▾</text><text class="w dot" x="169.97" y="18">.</text><rect class="e" x="178.67" y="5" width="68.67" height="16" rx="4" ry="4"/><text class="k" x="183.67" y="18" textLength="42">Visible</text><text class="a" fill="#266643" transform="translate(233.57,15.05) scale(1,0.9)">▾</text><text class="w" x="252.33" y="18" textLength="16"> to</text><g transform="translate(287.33,0)"><path class="d" fill="rgb(95,137,52)" transform="translate(1,1)" d="m 0,0 H 67.67 v 25 H 0 V 20 c 0,-10 -8,8 -8,-7.5 s 8,2.5 8,-7.5 z "/><path fill="#77AB41" d="m 0,0 H 67.67 v 25 H 0 V 20 c 0,-10 -8,8 -8,-7.5 s 8,2.5 8,-7.5 z "/><path class="l" stroke="rgb(160,196,122)" d="m 0.5,0.5 H 67.17 M 67.17,0.5 M 0.5,24.5 V 18.5 m -7.36,-0.5 q -1.52,-5.5 0,-11 m 7.36,1 V 0.5 H 1 "/><rect class="e" x="5" y="5" width="57.67" height="16" rx="4" ry="4"/><text class="k" x="10" y="18" textLength="31">false</text><text class="a" fill="#77AB41" transform="translate(48.9,15.05) scale(1,0.9)">▾</text><rect class="wc" x="68.67" y="0" width="1" height="5.8"/><rect class="bc" x="68.67" y="5.8" width="1" height="4.2"/><rect class="wc" x="68.67" y="10" width="1" height="2.8"/><rect class="bc" x="68.67" y="12.8" width="1" height="1.2"/><rect class="wc" x="68.67" y="14" width="1" height="3"/><rect class="bc" x="68.67" y="17" width="1" height="3"/><rect class="wc" x="68.67" y="20" width="1" height="6"/></g><g transform="translate(0,26)"><rect class="pk" x="325.33" y="0" width="1" height="1"/><path class="d" fill="rgb(30,82,54)" transform="translate(1,1)" d="m 0,0 H 15 l 6,4 3,0 6,-4 H 325.33 v 5 c 0,10 -8,-8 -8,7.5 s 8,-2.5 8,7.5 v 5 H 29.5 l -6,4 -3,0 -6,-4 H 8 a 8,8 0 0,1 -8,-8 z "/><path fill="#266643" d="m 0,0 H 15 l 6,4 3,0 6,-4 H 325.33 v 5 c 0,10 -8,-8 -8,7.5 s 8,-2.5 8,7.5 v 5 H 29.5 l -6,4 -3,0 -6,-4 H 8 a 8,8 0 0,1 -8,-8 z "/><path class="l" stroke="rgb(103,148,123)" d="m 0.5,0.5 H 15 l 6,4 3,0 6,-4 H 324.83 M 324.83,0.5 M 320.33,19.3 l 3.68,-2.1 M 2.7,22.3 A 7.5,7.5 0 0,1 0.5,17 V 0.5 "/><text class="w" x="10" y="18" textLength="24">set </text><rect class="e" x="39" y="5" width="180.67" height="16" rx="4" ry="4"/><text class="k" x="44" y="18" textLength="154">Registrado_bien_o_mal</text><text class="a" fill="#266643" transform="translate(205.9,15.05) scale(1,0.9)">▾</text><text class="w dot" x="224.97" y="18">.</text><rect class="e" x="233.67" y="5" width="52.67" height="16" rx="4" ry="4"/><text class="k" x="238.67" y="18" textLength="26">Text</text><text class="a" fill="#266643" transform="translate(272.57,15.05) scale(1,0.9)">▾</text><text class="w" x="291.33" y="18" textLength="16"> to</text><g transform="translate(326.33,0)"><path class="d" fill="rgb(143,36,75)" transform="translate(1,1)" d="m 0,0 H 234 v 25 H 0 V 20 c 0,-10 -8,8 -8,-7.5 s 8,2.5 8,-7.5 z "/><path fill="#B32D5E" d="m 0,0 H 234 v 25 H 0 V 20 c 0,-10 -8,8 -8,-7.5 s 8,2.5 8,-7.5 z "/><path class="l" stroke="rgb(202,108,142)" d="m 0.5,0.5 H 233.5 M 233.5,0.5 M 0.5,24.5 V 18.5 m -7.36,-0.5 q -1.52,-5.5 0,-11 m 7.36,1 V 0.5 H 1 "/><text class="w" x="10" y="16.7">“</text><rect class="e" x="20" y="5" width="194" height="16" rx="4" ry="4"/><text class="k" x="25" y="18" textLength="184">T'has registrat correctament</text><text class="w" x="219" y="16.7">”</text><rect class="fc" x="235" y="1" width="1" height="25"/></g></g></g></g></g></g></g><g transform="translate(49,373)"><rect class="pk" x="325.33" y="0" width="1" height="1"/><path class="d" fill="rgb(30,82,54)" transform="translate(1,1)" d="m 0,8 A 8,8 0 0,1 8,0 H 15 l 6,4 3,0 6,-4 H 325.33 v 5 c 0,10 -8,-8 -8,7.5 s 8,-2.5 8,7.5 v 5 H 29.5 l -6,4 -3,0 -6,-4 H 0 z "/><path fill="#266643" d="m 0,8 A 8,8 0 0,1 8,0 H 15 l 6,4 3,0 6,-4 H 325.33 v 5 c 0,10 -8,-8 -8,7.5 s 8,-2.5 8,7.5 v 5 H 29.5 l -6,4 -3,0 -6,-4 H 0 z "/><path class="l" stroke="rgb(103,148,123)" d="m 0.5,7.5 A 7.5,7.5 0 0,1 8,0.5 H 15 l 6,4 3,0 6,-4 H 324.83 M 324.83,0.5 M 320.33,19.3 l 3.68,-2.1 M 0.5,24.5 V 8 "/><text class="w" x="10" y="18" textLength="24">set </text><rect class="e" x="39" y="5" width="180.67" height="16" rx="4" ry="4"/><text class="k" x="44" y="18" textLength="154">Registrado_bien_o_mal</text><text class="a" fill="#266643" transform="translate(205.9,15.05) scale(1,0.9)">▾</text><text class="w dot" x="224.97" y="18">.</text><rect class="e" x="233.67" y="5" width="52.67" height="16" rx="4" ry="4"/><text class="k" x="238.67" y="18" textLength="26">Text</text><text class="a" fill="#266643" transform="translate(272.57,15.05) scale(1,0.9)">▾</text><text class="w" x="291.33" y="18" textLength="16"> to</text><g transform="translate(326.33,0)"><path class="d" fill="rgb(143,36,75)" transform="translate(1,1)" d="m 0,0 H 376 v 25 H 0 V 20 c 0,-10 -8,8 -8,-7.5 s 8,2.5 8,-7.5 z "/><path fill="#B32D5E" d="m 0,0 H 376 v 25 H 0 V 20 c 0,-10 -8,8 -8,-7.5 s 8,2.5 8,-7.5 z "/><path class="l" stroke="rgb(202,108,142)" d="m 0.5,0.5 H 375.5 M 375.5,0.5 M 0.5,24.5 V 18.5 m -7.36,-0.5 q -1.52,-5.5 0,-11 m 7.36,1 V 0.5 H 1 "/><text class="w" x="10" y="16.7">“</text><rect class="e" x="20" y="5" width="336" height="16" rx="4" ry="4"/><text class="k" x="25" y="18" textLength="326">No s'ha pogut registrar. Revisa que les contrase…</text><text class="w" x="361" y="16.7">”</text><rect class="fc" x="377" y="1" width="1" height="25"/></g><g transform="translate(0,26)"><rect class="pk" x="282.33" y="0" width="1" height="1"/><path class="d" fill="rgb(30,82,54)" transform="translate(1,1)" d="m 0,0 H 15 l 6,4 3,0 6,-4 H 282.33 v 5 c 0,10 -8,-8 -8,7.5 s 8,-2.5 8,7.5 v 5 H 29.5 l -6,4 -3,0 -6,-4 H 0 z "/><path fill="#266643" d="m 0,0 H 15 l 6,4 3,0 6,-4 H 282.33 v 5 c 0,10 -8,-8 -8,7.5 s 8,-2.5 8,7.5 v 5 H 29.5 l -6,4 -3,0 -6,-4 H 0 z "/><path class="l" stroke="rgb(103,148,123)" d="m 0.5,0.5 H 15 l 6,4 3,0 6,-4 H 281.83 M 281.83,0.5 M 277.33,19.3 l 3.68,-2.1 M 0.5,24.5 V 0.5 "/><text class="w" x="10" y="18" textLength="24">set </text><rect class="e" x="39" y="5" width="121.67" height="16" rx="4" ry="4"/><text class="k" x="44" y="18" textLength="95">BTN_Continua</text><text class="a" fill="#266643" transform="translate(146.9,15.05) scale(1,0.9)">▾</text><text class="w dot" x="165.97" y="18">.</text><rect class="e" x="174.67" y="5" width="68.67" height="16" rx="4" ry="4"/><text class="k" x="179.67" y="18" textLength="42">Visible</text><text class="a" fill="#266643" transform="translate(229.57,15.05) scale(1,0.9)">▾</text><text class="w" x="248.33" y="18" textLength="16"> to</text><g transform="translate(283.33,0)"><path class="d" fill="rgb(95,137,52)" transform="translate(1,1)" d="m 0,0 H 67.67 v 25 H 0 V 20 c 0,-10 -8,8 -8,-7.5 s 8,2.5 8,-7.5 z "/><path fill="#77AB41" d="m 0,0 H 67.67 v 25 H 0 V 20 c 0,-10 -8,8 -8,-7.5 s 8,2.5 8,-7.5 z "/><path class="l" stroke="rgb(160,196,122)" d="m 0.5,0.5 H 67.17 M 67.17,0.5 M 0.5,24.5 V 18.5 m -7.36,-0.5 q -1.52,-5.5 0,-11 m 7.36,1 V 0.5 H 1 "/><rect class="e" x="5" y="5" width="57.67" height="16" rx="4" ry="4"/><text class="k" x="10" y="18" textLength="31">false</text><text class="a" fill="#77AB41" transform="translate(48.9,15.05) scale(1,0.9)">▾</text><rect class="wc" x="68.67" y="0" width="1" height="5.8"/><rect class="bc" x="68.67" y="5.8" width="1" height="4.2"/><rect class="wc" x="68.67" y="10" width="1" height="2.8"/><rect class="bc" x="68.67" y="12.8" width="1" height="1.2"/><rect class="wc" x="68.67" y="14" width="1" height="3"/><rect class="bc" x="68.67" y="17" width="1" height="3"/><rect class="wc" x="68.67" y="20" width="1" height="6"/></g><g transform="translate(0,26)"><rect class="pk" x="286.33" y="0" width="1" height="1"/><path class="d" fill="rgb(30,82,54)" transform="translate(1,1)" d="m 0,0 H 15 l 6,4 3,0 6,-4 H 286.33 v 5 c 0,10 -8,-8 -8,7.5 s 8,-2.5 8,7.5 v 5 H 29.5 l -6,4 -3,0 -6,-4 H 8 a 8,8 0 0,1 -8,-8 z "/><path fill="#266643" d="m 0,0 H 15 l 6,4 3,0 6,-4 H 286.33 v 5 c 0,10 -8,-8 -8,7.5 s 8,-2.5 8,7.5 v 5 H 29.5 l -6,4 -3,0 -6,-4 H 8 a 8,8 0 0,1 -8,-8 z "/><path class="l" stroke="rgb(103,148,123)" d="m 0.5,0.5 H 15 l 6,4 3,0 6,-4 H 285.83 M 285.83,0.5 M 281.33,19.3 l 3.68,-2.1 M 2.7,22.3 A 7.5,7.5 0 0,1 0.5,17 V 0.5 "/><text class="w" x="10" y="18" textLength="24">set </text><rect class="e" x="39" y="5" width="125.67" height="16" rx="4" ry="4"/><text class="k" x="44" y="18" textLength="99">Volver_al_inicio</text><text class="a" fill="#266643" transform="translate(150.9,15.05) scale(1,0.9)">▾</text><text class="w dot" x="169.97" y="18">.</text><rect class="e" x="178.67" y="5" width="68.67" height="16" rx="4" ry="4"/><text class="k" x="183.67" y="18" textLength="42">Visible</text><text class="a" fill="#266643" transform="translate(233.57,15.05) scale(1,0.9)">▾</text><text class="w" x="252.33" y="18" textLength="16"> to</text><g transform="translate(287.33,0)"><path class="d" fill="rgb(95,137,52)" transform="translate(1,1)" d="m 0,0 H 61.67 v 25 H 0 V 20 c 0,-10 -8,8 -8,-7.5 s 8,2.5 8,-7.5 z "/><path fill="#77AB41" d="m 0,0 H 61.67 v 25 H 0 V 20 c 0,-10 -8,8 -8,-7.5 s 8,2.5 8,-7.5 z "/><path class="l" stroke="rgb(160,196,122)" d="m 0.5,0.5 H 61.17 M 61.17,0.5 M 0.5,24.5 V 18.5 m -7.36,-0.5 q -1.52,-5.5 0,-11 m 7.36,1 V 0.5 H 1 "/><rect class="e" x="5" y="5" width="51.67" height="16" rx="4" ry="4"/><text class="k" x="10" y="18" textLength="25">true</text><text class="a" fill="#77AB41" transform="translate(42.9,15.05) scale(1,0.9)">▾</text><rect class="wc" x="62.67" y="0" width="1" height="5.8"/><rect class="bc" x="62.67" y="5.8" width="1" height="4.2"/><rect class="wc" x="62.67" y="10" width="1" height="2.8"/><rect class="bc" x="62.67" y="12.8" width="1" height="1.2"/><rect class="wc" x="62.67" y="14" width="1" height="3"/><rect class="bc" x="62.67" y="17" width="1" height="3"/><rect class="wc" x="62.67" y="20" width="1" height="6"/></g></g></g></g></g></g></g>
<g transform="translate(12,730)"><path class="pk" d="m 0,8 A 8,8 0 0,1 8,0 H 275.67 v 25 v 25 H 66 l -6,4 -3,0 -6,-4 h -7 a 8,8 0 0,0 -8,8 v 65 a 8,8 0 0,0 8,8 H 275.67 v 10 H 8 a 8,8 0 0,1 -8,-8 z "/><path class="pk" transform="translate(1,1)" d="m 0,8 A 8,8 0 0,1 8,0 H 275.67 v 25 v 25 H 66 l -6,4 -3,0 -6,-4 h -7 a 8,8 0 0,0 -8,8 v 65 a 8,8 0 0,0 8,8 H 275.67 v 10 H 8 a 8,8 0 0,1 -8,-8 z "/><path class="cs" d="M 0.48,5.26 A 8,8 0 0,1 5.26,0.48 M 5.26,140.52 A 8,8 0 0,1 0.48,135.74"/><rect class="pk" x="36" y="118" width="23" height="13.5"/><path class="d" fill="rgb(142,114,42)" transform="translate(1,1)" d="m 0,8 A 8,8 0 0,1 8,0 H 275.67 v 25 v 25 H 66 l -6,4 -3,0 -6,-4 h -7 a 8,8 0 0,0 -8,8 v 65 a 8,8 0 0,0 8,8 H 275.67 v 10 H 8 a 8,8 0 0,1 -8,-8 z "/><path fill="#B18E35" d="m 0,8 A 8,8 0 0,1 8,0 H 275.67 v 25 v 25 H 66 l -6,4 -3,0 -6,-4 h -7 a 8,8 0 0,0 -8,8 v 65 a 8,8 0 0,0 8,8 H 275.67 v 10 H 8 a 8,8 0 0,1 -8,-8 z "/><path class="l" stroke="rgb(200,176,114)" d="m 0.5,7.5 A 7.5,7.5 0 0,1 8,0.5 H 275.17 M 275.17,0.5 M 275.17,25.5 M 275.17,50.5 M 37.99,129.01 a 8.5,8.5 0 0,0 6.0104076400856545,2.4895923599143455 H 275.17 M 2.7,138.3 A 7.5,7.5 0 0,1 0.5,133 V 8 "/><text class="w" x="10" y="18" textLength="39">when </text><rect class="e" x="54" y="5" width="112.67" height="16" rx="4" ry="4"/><text class="k" x="59" y="18" textLength="86">FirebaseDB1</text><text class="a" fill="#B18E35" transform="translate(152.9,15.05) scale(1,0.9)">▾</text><text class="w" x="171.67" y="18" textLength="94">.DataChanged</text><text class="w" x="10" y="43"> </text><rect class="p" x="19" y="30" width="30" height="16" rx="4" ry="4"/><text class="k" x="24" y="43" textLength="20">tag</text><text class="w" x="54" y="43"> </text><rect class="p" x="63" y="30" width="44" height="16" rx="4" ry="4"/><text class="k" x="68" y="43" textLength="34">value</text><text class="w" x="112" y="43"> </text><text class="w" x="10" y="68" textLength="16">do</text><g transform="translate(37,51)"><rect class="pk" x="156" y="0" width="1" height="1"/><rect class="pk" x="156" y="26" width="1" height="1"/><rect class="pk" x="156" y="52" width="1" height="1"/><path class="d" fill="rgb(58,133,170)" transform="translate(1,1)" d="m 0,8 A 8,8 0 0,1 8,0 H 15 l 6,4 3,0 6,-4 H 156 v 5 c 0,10 -8,-8 -8,7.5 s 8,-2.5 8,7.5 v 6 v 5 c 0,10 -8,-8 -8,7.5 s 8,-2.5 8,7.5 v 6 v 5 c 0,10 -8,-8 -8,7.5 s 8,-2.5 8,7.5 v 5 H 29.5 l -6,4 -3,0 -6,-4 H 8 a 8,8 0 0,1 -8,-8 z "/><path fill="#49A6D4" d="m 0,8 A 8,8 0 0,1 8,0 H 15 l 6,4 3,0 6,-4 H 156 v 5 c 0,10 -8,-8 -8,7.5 s 8,-2.5 8,7.5 v 6 v 5 c 0,10 -8,-8 -8,7.5 s 8,-2.5 8,7.5 v 6 v 5 c 0,10 -8,-8 -8,7.5 s 8,-2.5 8,7.5 v 5 H 29.5 l -6,4 -3,0 -6,-4 H 8 a 8,8 0 0,1 -8,-8 z "/><path class="l" stroke="rgb(128,193,225)" d="m 0.5,7.5 A 7.5,7.5 0 0,1 8,0.5 H 15 l 6,4 3,0 6,-4 H 155.5 M 155.5,0.5 M 151,19.3 l 3.68,-2.1 M 155.5,26.5 M 151,45.3 l 3.68,-2.1 M 155.5,52.5 M 151,71.3 l 3.68,-2.1 M 2.7,74.3 A 7.5,7.5 0 0,1 0.5,69 V 8 "/><text class="w" x="10" y="18" textLength="128">replace list item  list</text><text class="w" x="104" y="44" textLength="34">index</text><text class="w" x="57" y="70" textLength="81">replacement</text><g transform="translate(157,0)"><path class="d" fill="rgb(166,76,36)" transform="translate(1,1)" d="m 0,0 H 100.67 v 25 H 0 V 20 c 0,-10 -8,8 -8,-7.5 s 8,2.5 8,-7.5 z "/><path fill="#D05F2D" d="m 0,0 H 100.67 v 25 H 0 V 20 c 0,-10 -8,8 -8,-7.5 s 8,2.5 8,-7.5 z "/><path class="l" stroke="rgb(222,143,108)" d="m 0.5,0.5 H 100.17 M 100.17,0.5 M 0.5,24.5 V 18.5 m -7.36,-0.5 q -1.52,-5.5 0,-11 m 7.36,1 V 0.5 H 1 "/><text class="w" x="10" y="18" textLength="20">get</text><rect class="e" x="35" y="5" width="60.67" height="16" rx="4" ry="4"/><text class="k" x="40" y="18" textLength="34">value</text><text class="a" fill="#D05F2D" transform="translate(81.9,15.05) scale(1,0.9)">▾</text></g><g transform="translate(157,26)"><path class="d" fill="rgb(50,90,145)" transform="translate(1,1)" d="m 0,0 H 28 v 25 H 0 V 20 c 0,-10 -8,8 -8,-7.5 s 8,2.5 8,-7.5 z "/><path fill="#3F71B5" d="m 0,0 H 28 v 25 H 0 V 20 c 0,-10 -8,8 -8,-7.5 s 8,2.5 8,-7.5 z "/><path class="l" stroke="rgb(121,156,203)" d="m 0.5,0.5 H 27.5 M 27.5,0.5 M 0.5,24.5 V 18.5 m -7.36,-0.5 q -1.52,-5.5 0,-11 m 7.36,1 V 0.5 H 1 "/><rect class="e" x="5" y="5" width="18" height="16" rx="4" ry="4"/><text class="k" x="10" y="18">1</text></g><g transform="translate(157,52)"><path class="d" fill="rgb(166,76,36)" transform="translate(1,1)" d="m 0,0 H 144.67 v 25 H 0 V 20 c 0,-10 -8,8 -8,-7.5 s 8,2.5 8,-7.5 z "/><path fill="#D05F2D" d="m 0,0 H 144.67 v 25 H 0 V 20 c 0,-10 -8,8 -8,-7.5 s 8,2.5 8,-7.5 z "/><path class="l" stroke="rgb(222,143,108)" d="m 0.5,0.5 H 144.17 M 144.17,0.5 M 0.5,24.5 V 18.5 m -7.36,-0.5 q -1.52,-5.5 0,-11 m 7.36,1 V 0.5 H 1 "/><text class="w" x="10" y="18" textLength="20">get</text><rect class="e" x="35" y="5" width="104.67" height="16" rx="4" ry="4"/><text class="k" x="40" y="18" textLength="78">global datos</text><text class="a" fill="#D05F2D" transform="translate(125.9,15.05) scale(1,0.9)">▾</text></g></g></g>
<g transform="translate(12,890)"><path class="pk" d="m 0,8 A 8,8 0 0,1 8,0 H 276.67 v 25 v 25 H 66 l -6,4 -3,0 -6,-4 h -7 a 8,8 0 0,0 -8,8 v 13 a 8,8 0 0,0 8,8 H 276.67 v 10 H 8 a 8,8 0 0,1 -8,-8 z "/><path class="pk" transform="translate(1,1)" d="m 0,8 A 8,8 0 0,1 8,0 H 276.67 v 25 v 25 H 66 l -6,4 -3,0 -6,-4 h -7 a 8,8 0 0,0 -8,8 v 13 a 8,8 0 0,0 8,8 H 276.67 v 10 H 8 a 8,8 0 0,1 -8,-8 z "/><path class="cs" d="M 0.48,5.26 A 8,8 0 0,1 5.26,0.48 M 5.26,88.52 A 8,8 0 0,1 0.48,83.74"/><rect class="pk" x="36" y="66" width="23" height="13.5"/><path class="d" fill="rgb(142,114,42)" transform="translate(1,1)" d="m 0,8 A 8,8 0 0,1 8,0 H 276.67 v 25 v 25 H 66 l -6,4 -3,0 -6,-4 h -7 a 8,8 0 0,0 -8,8 v 13 a 8,8 0 0,0 8,8 H 276.67 v 10 H 8 a 8,8 0 0,1 -8,-8 z "/><path fill="#B18E35" d="m 0,8 A 8,8 0 0,1 8,0 H 276.67 v 25 v 25 H 66 l -6,4 -3,0 -6,-4 h -7 a 8,8 0 0,0 -8,8 v 13 a 8,8 0 0,0 8,8 H 276.67 v 10 H 8 a 8,8 0 0,1 -8,-8 z "/><path class="l" stroke="rgb(200,176,114)" d="m 0.5,7.5 A 7.5,7.5 0 0,1 8,0.5 H 276.17 M 276.17,0.5 M 276.17,25.5 M 276.17,50.5 M 37.99,77.01 a 8.5,8.5 0 0,0 6.0104076400856545,2.4895923599143455 H 276.17 M 2.7,86.3 A 7.5,7.5 0 0,1 0.5,81 V 8 "/><text class="w" x="10" y="18" textLength="39">when </text><rect class="e" x="54" y="5" width="112.67" height="16" rx="4" ry="4"/><text class="k" x="59" y="18" textLength="86">FirebaseDB1</text><text class="a" fill="#B18E35" transform="translate(152.9,15.05) scale(1,0.9)">▾</text><text class="w" x="171.67" y="18" textLength="95">.FirebaseError</text><text class="w" x="10" y="43"> </text><rect class="p" x="19" y="30" width="71" height="16" rx="4" ry="4"/><text class="k" x="24" y="43" textLength="61">message</text><text class="w" x="95" y="43"> </text><text class="w" x="10" y="68" textLength="16">do</text><g transform="translate(37,51)"><rect class="pk" x="325.33" y="0" width="1" height="1"/><path class="d" fill="rgb(30,82,54)" transform="translate(1,1)" d="m 0,8 A 8,8 0 0,1 8,0 H 15 l 6,4 3,0 6,-4 H 325.33 v 5 c 0,10 -8,-8 -8,7.5 s 8,-2.5 8,7.5 v 5 H 29.5 l -6,4 -3,0 -6,-4 H 8 a 8,8 0 0,1 -8,-8 z "/><path fill="#266643" d="m 0,8 A 8,8 0 0,1 8,0 H 15 l 6,4 3,0 6,-4 H 325.33 v 5 c 0,10 -8,-8 -8,7.5 s 8,-2.5 8,7.5 v 5 H 29.5 l -6,4 -3,0 -6,-4 H 8 a 8,8 0 0,1 -8,-8 z "/><path class="l" stroke="rgb(103,148,123)" d="m 0.5,7.5 A 7.5,7.5 0 0,1 8,0.5 H 15 l 6,4 3,0 6,-4 H 324.83 M 324.83,0.5 M 320.33,19.3 l 3.68,-2.1 M 2.7,22.3 A 7.5,7.5 0 0,1 0.5,17 V 8 "/><text class="w" x="10" y="18" textLength="24">set </text><rect class="e" x="39" y="5" width="180.67" height="16" rx="4" ry="4"/><text class="k" x="44" y="18" textLength="154">Registrado_bien_o_mal</text><text class="a" fill="#266643" transform="translate(205.9,15.05) scale(1,0.9)">▾</text><text class="w dot" x="224.97" y="18">.</text><rect class="e" x="233.67" y="5" width="52.67" height="16" rx="4" ry="4"/><text class="k" x="238.67" y="18" textLength="26">Text</text><text class="a" fill="#266643" transform="translate(272.57,15.05) scale(1,0.9)">▾</text><text class="w" x="291.33" y="18" textLength="16"> to</text><g transform="translate(326.33,0)"><path class="d" fill="rgb(166,76,36)" transform="translate(1,1)" d="m 0,0 H 127.67 v 25 H 0 V 20 c 0,-10 -8,8 -8,-7.5 s 8,2.5 8,-7.5 z "/><path fill="#D05F2D" d="m 0,0 H 127.67 v 25 H 0 V 20 c 0,-10 -8,8 -8,-7.5 s 8,2.5 8,-7.5 z "/><path class="l" stroke="rgb(222,143,108)" d="m 0.5,0.5 H 127.17 M 127.17,0.5 M 0.5,24.5 V 18.5 m -7.36,-0.5 q -1.52,-5.5 0,-11 m 7.36,1 V 0.5 H 1 "/><text class="w" x="10" y="18" textLength="20">get</text><rect class="e" x="35" y="5" width="87.67" height="16" rx="4" ry="4"/><text class="k" x="40" y="18" textLength="61">message</text><text class="a" fill="#D05F2D" transform="translate(108.9,15.05) scale(1,0.9)">▾</text><rect class="wc" x="128.67" y="0" width="1" height="5.8"/><rect class="bc" x="128.67" y="5.8" width="1" height="4.2"/><rect class="wc" x="128.67" y="10" width="1" height="2.8"/><rect class="bc" x="128.67" y="12.8" width="1" height="1.2"/><rect class="wc" x="128.67" y="14" width="1" height="3"/><rect class="bc" x="128.67" y="17" width="1" height="3"/><rect class="wc" x="128.67" y="20" width="1" height="6"/></g></g></g>
<g transform="translate(12,1010)"><path class="pk" d="m 0,8 A 8,8 0 0,1 8,0 H 206.67 v 25 H 66 l -6,4 -3,0 -6,-4 h -7 a 8,8 0 0,0 -8,8 v 715 a 8,8 0 0,0 8,8 H 206.67 v 10 H 8 a 8,8 0 0,1 -8,-8 z "/><path class="pk" transform="translate(1,1)" d="m 0,8 A 8,8 0 0,1 8,0 H 206.67 v 25 H 66 l -6,4 -3,0 -6,-4 h -7 a 8,8 0 0,0 -8,8 v 715 a 8,8 0 0,0 8,8 H 206.67 v 10 H 8 a 8,8 0 0,1 -8,-8 z "/><path class="cs" d="M 0.48,5.26 A 8,8 0 0,1 5.26,0.48 M 5.26,765.52 A 8,8 0 0,1 0.48,760.74"/><rect class="pk" x="36" y="743" width="23" height="13.5"/><path class="d" fill="rgb(142,114,42)" transform="translate(1,1)" d="m 0,8 A 8,8 0 0,1 8,0 H 206.67 v 25 H 66 l -6,4 -3,0 -6,-4 h -7 a 8,8 0 0,0 -8,8 v 715 a 8,8 0 0,0 8,8 H 206.67 v 10 H 8 a 8,8 0 0,1 -8,-8 z "/><path fill="#B18E35" d="m 0,8 A 8,8 0 0,1 8,0 H 206.67 v 25 H 66 l -6,4 -3,0 -6,-4 h -7 a 8,8 0 0,0 -8,8 v 715 a 8,8 0 0,0 8,8 H 206.67 v 10 H 8 a 8,8 0 0,1 -8,-8 z "/><path class="l" stroke="rgb(200,176,114)" d="m 0.5,7.5 A 7.5,7.5 0 0,1 8,0.5 H 206.17 M 206.17,0.5 M 206.17,25.5 M 37.99,754.01 a 8.5,8.5 0 0,0 6.0104076400856545,2.4895923599143455 H 206.17 M 2.7,763.3 A 7.5,7.5 0 0,1 0.5,758 V 8 "/><text class="w" x="10" y="18" textLength="39">when </text><rect class="e" x="54" y="5" width="81.67" height="16" rx="4" ry="4"/><text class="k" x="59" y="18" textLength="55">Screen3</text><text class="a" fill="#B18E35" transform="translate(121.9,15.05) scale(1,0.9)">▾</text><text class="w" x="140.67" y="18" textLength="56">.Initialize</text><text class="w" x="10" y="43" textLength="16">do</text><g transform="translate(37,26)"><rect class="pk" x="220.33" y="0" width="1" height="1"/><path class="d" fill="rgb(30,82,54)" transform="translate(1,1)" d="m 0,8 A 8,8 0 0,1 8,0 H 15 l 6,4 3,0 6,-4 H 220.33 v 5 c 0,10 -8,-8 -8,7.5 s 8,-2.5 8,7.5 v 5 H 29.5 l -6,4 -3,0 -6,-4 H 0 z "/><path fill="#266643" d="m 0,8 A 8,8 0 0,1 8,0 H 15 l 6,4 3,0 6,-4 H 220.33 v 5 c 0,10 -8,-8 -8,7.5 s 8,-2.5 8,7.5 v 5 H 29.5 l -6,4 -3,0 -6,-4 H 0 z "/><path class="l" stroke="rgb(103,148,123)" d="m 0.5,7.5 A 7.5,7.5 0 0,1 8,0.5 H 15 l 6,4 3,0 6,-4 H 219.83 M 219.83,0.5 M 215.33,19.3 l 3.68,-2.1 M 0.5,24.5 V 8 "/><text class="w" x="10" y="18" textLength="24">set </text><rect class="e" x="39" y="5" width="59.67" height="16" rx="4" ry="4"/><text class="k" x="44" y="18" textLength="33">Sexe</text><text class="a" fill="#266643" transform="translate(84.9,15.05) scale(1,0.9)">▾</text><text class="w dot" x="103.97" y="18">.</text><rect class="e" x="112.67" y="5" width="68.67" height="16" rx="4" ry="4"/><text class="k" x="117.67" y="18" textLength="42">Visible</text><text class="a" fill="#266643" transform="translate(167.57,15.05) scale(1,0.9)">▾</text><text class="w" x="186.33" y="18" textLength="16"> to</text><g transform="translate(221.33,0)"><path class="d" fill="rgb(95,137,52)" transform="translate(1,1)" d="m 0,0 H 67.67 v 25 H 0 V 20 c 0,-10 -8,8 -8,-7.5 s 8,2.5 8,-7.5 z "/><path fill="#77AB41" d="m 0,0 H 67.67 v 25 H 0 V 20 c 0,-10 -8,8 -8,-7.5 s 8,2.5 8,-7.5 z "/><path class="l" stroke="rgb(160,196,122)" d="m 0.5,0.5 H 67.17 M 67.17,0.5 M 0.5,24.5 V 18.5 m -7.36,-0.5 q -1.52,-5.5 0,-11 m 7.36,1 V 0.5 H 1 "/><rect class="e" x="5" y="5" width="57.67" height="16" rx="4" ry="4"/><text class="k" x="10" y="18" textLength="31">false</text><text class="a" fill="#77AB41" transform="translate(48.9,15.05) scale(1,0.9)">▾</text><rect class="wc" x="68.67" y="0" width="1" height="5.8"/><rect class="bc" x="68.67" y="5.8" width="1" height="4.2"/><rect class="wc" x="68.67" y="10" width="1" height="2.8"/><rect class="bc" x="68.67" y="12.8" width="1" height="1.2"/><rect class="wc" x="68.67" y="14" width="1" height="3"/><rect class="bc" x="68.67" y="17" width="1" height="3"/><rect class="wc" x="68.67" y="20" width="1" height="6"/></g><g transform="translate(0,26)"><rect class="pk" x="286.33" y="0" width="1" height="1"/><path class="d" fill="rgb(30,82,54)" transform="translate(1,1)" d="m 0,0 H 15 l 6,4 3,0 6,-4 H 286.33 v 5 c 0,10 -8,-8 -8,7.5 s 8,-2.5 8,7.5 v 5 H 29.5 l -6,4 -3,0 -6,-4 H 0 z "/><path fill="#266643" d="m 0,0 H 15 l 6,4 3,0 6,-4 H 286.33 v 5 c 0,10 -8,-8 -8,7.5 s 8,-2.5 8,7.5 v 5 H 29.5 l -6,4 -3,0 -6,-4 H 0 z "/><path class="l" stroke="rgb(103,148,123)" d="m 0.5,0.5 H 15 l 6,4 3,0 6,-4 H 285.83 M 285.83,0.5 M 281.33,19.3 l 3.68,-2.1 M 0.5,24.5 V 0.5 "/><text class="w" x="10" y="18" textLength="24">set </text><rect class="e" x="39" y="5" width="125.67" height="16" rx="4" ry="4"/><text class="k" x="44" y="18" textLength="99">Volver_al_inicio</text><text class="a" fill="#266643" transform="translate(150.9,15.05) scale(1,0.9)">▾</text><text class="w dot" x="169.97" y="18">.</text><rect class="e" x="178.67" y="5" width="68.67" height="16" rx="4" ry="4"/><text class="k" x="183.67" y="18" textLength="42">Visible</text><text class="a" fill="#266643" transform="translate(233.57,15.05) scale(1,0.9)">▾</text><text class="w" x="252.33" y="18" textLength="16"> to</text><g transform="translate(287.33,0)"><path class="d" fill="rgb(95,137,52)" transform="translate(1,1)" d="m 0,0 H 61.67 v 25 H 0 V 20 c 0,-10 -8,8 -8,-7.5 s 8,2.5 8,-7.5 z "/><path fill="#77AB41" d="m 0,0 H 61.67 v 25 H 0 V 20 c 0,-10 -8,8 -8,-7.5 s 8,2.5 8,-7.5 z "/><path class="l" stroke="rgb(160,196,122)" d="m 0.5,0.5 H 61.17 M 61.17,0.5 M 0.5,24.5 V 18.5 m -7.36,-0.5 q -1.52,-5.5 0,-11 m 7.36,1 V 0.5 H 1 "/><rect class="e" x="5" y="5" width="51.67" height="16" rx="4" ry="4"/><text class="k" x="10" y="18" textLength="25">true</text><text class="a" fill="#77AB41" transform="translate(42.9,15.05) scale(1,0.9)">▾</text><rect class="wc" x="62.67" y="0" width="1" height="5.8"/><rect class="bc" x="62.67" y="5.8" width="1" height="4.2"/><rect class="wc" x="62.67" y="10" width="1" height="2.8"/><rect class="bc" x="62.67" y="12.8" width="1" height="1.2"/><rect class="wc" x="62.67" y="14" width="1" height="3"/><rect class="bc" x="62.67" y="17" width="1" height="3"/><rect class="wc" x="62.67" y="20" width="1" height="6"/></g><g transform="translate(0,26)"><rect class="pk" x="217.33" y="0" width="1" height="1"/><path class="d" fill="rgb(30,82,54)" transform="translate(1,1)" d="m 0,0 H 15 l 6,4 3,0 6,-4 H 217.33 v 5 c 0,10 -8,-8 -8,7.5 s 8,-2.5 8,7.5 v 5 H 29.5 l -6,4 -3,0 -6,-4 H 0 z "/><path fill="#266643" d="m 0,0 H 15 l 6,4 3,0 6,-4 H 217.33 v 5 c 0,10 -8,-8 -8,7.5 s 8,-2.5 8,7.5 v 5 H 29.5 l -6,4 -3,0 -6,-4 H 0 z "/><path class="l" stroke="rgb(103,148,123)" d="m 0.5,0.5 H 15 l 6,4 3,0 6,-4 H 216.83 M 216.83,0.5 M 212.33,19.3 l 3.68,-2.1 M 0.5,24.5 V 0.5 "/><text class="w" x="10" y="18" textLength="24">set </text><rect class="e" x="39" y="5" width="56.67" height="16" rx="4" ry="4"/><text class="k" x="44" y="18" textLength="30">Edat</text><text class="a" fill="#266643" transform="translate(81.9,15.05) scale(1,0.9)">▾</text><text class="w dot" x="100.97" y="18">.</text><rect class="e" x="109.67" y="5" width="68.67" height="16" rx="4" ry="4"/><text class="k" x="114.67" y="18" textLength="42">Visible</text><text class="a" fill="#266643" transform="translate(164.57,15.05) scale(1,0.9)">▾</text><text class="w" x="183.33" y="18" textLength="16"> to</text><g transform="translate(218.33,0)"><path class="d" fill="rgb(95,137,52)" transform="translate(1,1)" d="m 0,0 H 67.67 v 25 H 0 V 20 c 0,-10 -8,8 -8,-7.5 s 8,2.5 8,-7.5 z "/><path fill="#77AB41" d="m 0,0 H 67.67 v 25 H 0 V 20 c 0,-10 -8,8 -8,-7.5 s 8,2.5 8,-7.5 z "/><path class="l" stroke="rgb(160,196,122)" d="m 0.5,0.5 H 67.17 M 67.17,0.5 M 0.5,24.5 V 18.5 m -7.36,-0.5 q -1.52,-5.5 0,-11 m 7.36,1 V 0.5 H 1 "/><rect class="e" x="5" y="5" width="57.67" height="16" rx="4" ry="4"/><text class="k" x="10" y="18" textLength="31">false</text><text class="a" fill="#77AB41" transform="translate(48.9,15.05) scale(1,0.9)">▾</text><rect class="wc" x="68.67" y="0" width="1" height="5.8"/><rect class="bc" x="68.67" y="5.8" width="1" height="4.2"/><rect class="wc" x="68.67" y="10" width="1" height="2.8"/><rect class="bc" x="68.67" y="12.8" width="1" height="1.2"/><rect class="wc" x="68.67" y="14" width="1" height="3"/><rect class="bc" x="68.67" y="17" width="1" height="3"/><rect class="wc" x="68.67" y="20" width="1" height="6"/></g><g transform="translate(0,26)"><rect class="pk" x="292.33" y="0" width="1" height="1"/><path class="d" fill="rgb(30,82,54)" transform="translate(1,1)" d="m 0,0 H 15 l 6,4 3,0 6,-4 H 292.33 v 5 c 0,10 -8,-8 -8,7.5 s 8,-2.5 8,7.5 v 5 H 29.5 l -6,4 -3,0 -6,-4 H 0 z "/><path fill="#266643" d="m 0,0 H 15 l 6,4 3,0 6,-4 H 292.33 v 5 c 0,10 -8,-8 -8,7.5 s 8,-2.5 8,7.5 v 5 H 29.5 l -6,4 -3,0 -6,-4 H 0 z "/><path class="l" stroke="rgb(103,148,123)" d="m 0.5,0.5 H 15 l 6,4 3,0 6,-4 H 291.83 M 291.83,0.5 M 287.33,19.3 l 3.68,-2.1 M 0.5,24.5 V 0.5 "/><text class="w" x="10" y="18" textLength="24">set </text><rect class="e" x="39" y="5" width="131.67" height="16" rx="4" ry="4"/><text class="k" x="44" y="18" textLength="105">REGISTRARSE</text><text class="a" fill="#266643" transform="translate(156.9,15.05) scale(1,0.9)">▾</text><text class="w dot" x="175.97" y="18">.</text><rect class="e" x="184.67" y="5" width="68.67" height="16" rx="4" ry="4"/><text class="k" x="189.67" y="18" textLength="42">Visible</text><text class="a" fill="#266643" transform="translate(239.57,15.05) scale(1,0.9)">▾</text><text class="w" x="258.33" y="18" textLength="16"> to</text><g transform="translate(293.33,0)"><path class="d" fill="rgb(95,137,52)" transform="translate(1,1)" d="m 0,0 H 61.67 v 25 H 0 V 20 c 0,-10 -8,8 -8,-7.5 s 8,2.5 8,-7.5 z "/><path fill="#77AB41" d="m 0,0 H 61.67 v 25 H 0 V 20 c 0,-10 -8,8 -8,-7.5 s 8,2.5 8,-7.5 z "/><path class="l" stroke="rgb(160,196,122)" d="m 0.5,0.5 H 61.17 M 61.17,0.5 M 0.5,24.5 V 18.5 m -7.36,-0.5 q -1.52,-5.5 0,-11 m 7.36,1 V 0.5 H 1 "/><rect class="e" x="5" y="5" width="51.67" height="16" rx="4" ry="4"/><text class="k" x="10" y="18" textLength="25">true</text><text class="a" fill="#77AB41" transform="translate(42.9,15.05) scale(1,0.9)">▾</text><rect class="wc" x="62.67" y="0" width="1" height="5.8"/><rect class="bc" x="62.67" y="5.8" width="1" height="4.2"/><rect class="wc" x="62.67" y="10" width="1" height="2.8"/><rect class="bc" x="62.67" y="12.8" width="1" height="1.2"/><rect class="wc" x="62.67" y="14" width="1" height="3"/><rect class="bc" x="62.67" y="17" width="1" height="3"/><rect class="wc" x="62.67" y="20" width="1" height="6"/></g><g transform="translate(0,26)"><rect class="pk" x="240.33" y="0" width="1" height="1"/><path class="d" fill="rgb(30,82,54)" transform="translate(1,1)" d="m 0,0 H 15 l 6,4 3,0 6,-4 H 240.33 v 5 c 0,10 -8,-8 -8,7.5 s 8,-2.5 8,7.5 v 5 H 29.5 l -6,4 -3,0 -6,-4 H 0 z "/><path fill="#266643" d="m 0,0 H 15 l 6,4 3,0 6,-4 H 240.33 v 5 c 0,10 -8,-8 -8,7.5 s 8,-2.5 8,7.5 v 5 H 29.5 l -6,4 -3,0 -6,-4 H 0 z "/><path class="l" stroke="rgb(103,148,123)" d="m 0.5,0.5 H 15 l 6,4 3,0 6,-4 H 239.83 M 239.83,0.5 M 235.33,19.3 l 3.68,-2.1 M 0.5,24.5 V 0.5 "/><text class="w" x="10" y="18" textLength="24">set </text><rect class="e" x="39" y="5" width="79.67" height="16" rx="4" ry="4"/><text class="k" x="44" y="18" textLength="53">USUARI</text><text class="a" fill="#266643" transform="translate(104.9,15.05) scale(1,0.9)">▾</text><text class="w dot" x="123.97" y="18">.</text><rect class="e" x="132.67" y="5" width="68.67" height="16" rx="4" ry="4"/><text class="k" x="137.67" y="18" textLength="42">Visible</text><text class="a" fill="#266643" transform="translate(187.57,15.05) scale(1,0.9)">▾</text><text class="w" x="206.33" y="18" textLength="16"> to</text><g transform="translate(241.33,0)"><path class="d" fill="rgb(95,137,52)" transform="translate(1,1)" d="m 0,0 H 61.67 v 25 H 0 V 20 c 0,-10 -8,8 -8,-7.5 s 8,2.5 8,-7.5 z "/><path fill="#77AB41" d="m 0,0 H 61.67 v 25 H 0 V 20 c 0,-10 -8,8 -8,-7.5 s 8,2.5 8,-7.5 z "/><path class="l" stroke="rgb(160,196,122)" d="m 0.5,0.5 H 61.17 M 61.17,0.5 M 0.5,24.5 V 18.5 m -7.36,-0.5 q -1.52,-5.5 0,-11 m 7.36,1 V 0.5 H 1 "/><rect class="e" x="5" y="5" width="51.67" height="16" rx="4" ry="4"/><text class="k" x="10" y="18" textLength="25">true</text><text class="a" fill="#77AB41" transform="translate(42.9,15.05) scale(1,0.9)">▾</text><rect class="wc" x="62.67" y="0" width="1" height="5.8"/><rect class="bc" x="62.67" y="5.8" width="1" height="4.2"/><rect class="wc" x="62.67" y="10" width="1" height="2.8"/><rect class="bc" x="62.67" y="12.8" width="1" height="1.2"/><rect class="wc" x="62.67" y="14" width="1" height="3"/><rect class="bc" x="62.67" y="17" width="1" height="3"/><rect class="wc" x="62.67" y="20" width="1" height="6"/></g><g transform="translate(0,26)"><rect class="pk" x="296.33" y="0" width="1" height="1"/><path class="d" fill="rgb(30,82,54)" transform="translate(1,1)" d="m 0,0 H 15 l 6,4 3,0 6,-4 H 296.33 v 5 c 0,10 -8,-8 -8,7.5 s 8,-2.5 8,7.5 v 5 H 29.5 l -6,4 -3,0 -6,-4 H 0 z "/><path fill="#266643" d="m 0,0 H 15 l 6,4 3,0 6,-4 H 296.33 v 5 c 0,10 -8,-8 -8,7.5 s 8,-2.5 8,7.5 v 5 H 29.5 l -6,4 -3,0 -6,-4 H 0 z "/><path class="l" stroke="rgb(103,148,123)" d="m 0.5,0.5 H 15 l 6,4 3,0 6,-4 H 295.83 M 295.83,0.5 M 291.33,19.3 l 3.68,-2.1 M 0.5,24.5 V 0.5 "/><text class="w" x="10" y="18" textLength="24">set </text><rect class="e" x="39" y="5" width="135.67" height="16" rx="4" ry="4"/><text class="k" x="44" y="18" textLength="109">CONTRASENYA</text><text class="a" fill="#266643" transform="translate(160.9,15.05) scale(1,0.9)">▾</text><text class="w dot" x="179.97" y="18">.</text><rect class="e" x="188.67" y="5" width="68.67" height="16" rx="4" ry="4"/><text class="k" x="193.67" y="18" textLength="42">Visible</text><text class="a" fill="#266643" transform="translate(243.57,15.05) scale(1,0.9)">▾</text><text class="w" x="262.33" y="18" textLength="16"> to</text><g transform="translate(297.33,0)"><path class="d" fill="rgb(95,137,52)" transform="translate(1,1)" d="m 0,0 H 61.67 v 25 H 0 V 20 c 0,-10 -8,8 -8,-7.5 s 8,2.5 8,-7.5 z "/><path fill="#77AB41" d="m 0,0 H 61.67 v 25 H 0 V 20 c 0,-10 -8,8 -8,-7.5 s 8,2.5 8,-7.5 z "/><path class="l" stroke="rgb(160,196,122)" d="m 0.5,0.5 H 61.17 M 61.17,0.5 M 0.5,24.5 V 18.5 m -7.36,-0.5 q -1.52,-5.5 0,-11 m 7.36,1 V 0.5 H 1 "/><rect class="e" x="5" y="5" width="51.67" height="16" rx="4" ry="4"/><text class="k" x="10" y="18" textLength="25">true</text><text class="a" fill="#77AB41" transform="translate(42.9,15.05) scale(1,0.9)">▾</text><rect class="wc" x="62.67" y="0" width="1" height="5.8"/><rect class="bc" x="62.67" y="5.8" width="1" height="4.2"/><rect class="wc" x="62.67" y="10" width="1" height="2.8"/><rect class="bc" x="62.67" y="12.8" width="1" height="1.2"/><rect class="wc" x="62.67" y="14" width="1" height="3"/><rect class="bc" x="62.67" y="17" width="1" height="3"/><rect class="wc" x="62.67" y="20" width="1" height="6"/></g><g transform="translate(0,26)"><rect class="pk" x="304.33" y="0" width="1" height="1"/><path class="d" fill="rgb(30,82,54)" transform="translate(1,1)" d="m 0,0 H 15 l 6,4 3,0 6,-4 H 304.33 v 5 c 0,10 -8,-8 -8,7.5 s 8,-2.5 8,7.5 v 5 H 29.5 l -6,4 -3,0 -6,-4 H 0 z "/><path fill="#266643" d="m 0,0 H 15 l 6,4 3,0 6,-4 H 304.33 v 5 c 0,10 -8,-8 -8,7.5 s 8,-2.5 8,7.5 v 5 H 29.5 l -6,4 -3,0 -6,-4 H 0 z "/><path class="l" stroke="rgb(103,148,123)" d="m 0.5,0.5 H 15 l 6,4 3,0 6,-4 H 303.83 M 303.83,0.5 M 299.33,19.3 l 3.68,-2.1 M 0.5,24.5 V 0.5 "/><text class="w" x="10" y="18" textLength="24">set </text><rect class="e" x="39" y="5" width="143.67" height="16" rx="4" ry="4"/><text class="k" x="44" y="18" textLength="117">CONTRASENYA2</text><text class="a" fill="#266643" transform="translate(168.9,15.05) scale(1,0.9)">▾</text><text class="w dot" x="187.97" y="18">.</text><rect class="e" x="196.67" y="5" width="68.67" height="16" rx="4" ry="4"/><text class="k" x="201.67" y="18" textLength="42">Visible</text><text class="a" fill="#266643" transform="translate(251.57,15.05) scale(1,0.9)">▾</text><text class="w" x="270.33" y="18" textLength="16"> to</text><g transform="translate(305.33,0)"><path class="d" fill="rgb(95,137,52)" transform="translate(1,1)" d="m 0,0 H 61.67 v 25 H 0 V 20 c 0,-10 -8,8 -8,-7.5 s 8,2.5 8,-7.5 z "/><path fill="#77AB41" d="m 0,0 H 61.67 v 25 H 0 V 20 c 0,-10 -8,8 -8,-7.5 s 8,2.5 8,-7.5 z "/><path class="l" stroke="rgb(160,196,122)" d="m 0.5,0.5 H 61.17 M 61.17,0.5 M 0.5,24.5 V 18.5 m -7.36,-0.5 q -1.52,-5.5 0,-11 m 7.36,1 V 0.5 H 1 "/><rect class="e" x="5" y="5" width="51.67" height="16" rx="4" ry="4"/><text class="k" x="10" y="18" textLength="25">true</text><text class="a" fill="#77AB41" transform="translate(42.9,15.05) scale(1,0.9)">▾</text><rect class="wc" x="62.67" y="0" width="1" height="5.8"/><rect class="bc" x="62.67" y="5.8" width="1" height="4.2"/><rect class="wc" x="62.67" y="10" width="1" height="2.8"/><rect class="bc" x="62.67" y="12.8" width="1" height="1.2"/><rect class="wc" x="62.67" y="14" width="1" height="3"/><rect class="bc" x="62.67" y="17" width="1" height="3"/><rect class="wc" x="62.67" y="20" width="1" height="6"/></g><g transform="translate(0,26)"><rect class="pk" x="292.33" y="0" width="1" height="1"/><path class="d" fill="rgb(30,82,54)" transform="translate(1,1)" d="m 0,0 H 15 l 6,4 3,0 6,-4 H 292.33 v 5 c 0,10 -8,-8 -8,7.5 s 8,-2.5 8,7.5 v 5 H 29.5 l -6,4 -3,0 -6,-4 H 0 z "/><path fill="#266643" d="m 0,0 H 15 l 6,4 3,0 6,-4 H 292.33 v 5 c 0,10 -8,-8 -8,7.5 s 8,-2.5 8,7.5 v 5 H 29.5 l -6,4 -3,0 -6,-4 H 0 z "/><path class="l" stroke="rgb(103,148,123)" d="m 0.5,0.5 H 15 l 6,4 3,0 6,-4 H 291.83 M 291.83,0.5 M 287.33,19.3 l 3.68,-2.1 M 0.5,24.5 V 0.5 "/><text class="w" x="10" y="18" textLength="24">set </text><rect class="e" x="39" y="5" width="131.67" height="16" rx="4" ry="4"/><text class="k" x="44" y="18" textLength="105">REGISTRARSE</text><text class="a" fill="#266643" transform="translate(156.9,15.05) scale(1,0.9)">▾</text><text class="w dot" x="175.97" y="18">.</text><rect class="e" x="184.67" y="5" width="68.67" height="16" rx="4" ry="4"/><text class="k" x="189.67" y="18" textLength="42">Visible</text><text class="a" fill="#266643" transform="translate(239.57,15.05) scale(1,0.9)">▾</text><text class="w" x="258.33" y="18" textLength="16"> to</text><g transform="translate(293.33,0)"><path class="d" fill="rgb(95,137,52)" transform="translate(1,1)" d="m 0,0 H 61.67 v 25 H 0 V 20 c 0,-10 -8,8 -8,-7.5 s 8,2.5 8,-7.5 z "/><path fill="#77AB41" d="m 0,0 H 61.67 v 25 H 0 V 20 c 0,-10 -8,8 -8,-7.5 s 8,2.5 8,-7.5 z "/><path class="l" stroke="rgb(160,196,122)" d="m 0.5,0.5 H 61.17 M 61.17,0.5 M 0.5,24.5 V 18.5 m -7.36,-0.5 q -1.52,-5.5 0,-11 m 7.36,1 V 0.5 H 1 "/><rect class="e" x="5" y="5" width="51.67" height="16" rx="4" ry="4"/><text class="k" x="10" y="18" textLength="25">true</text><text class="a" fill="#77AB41" transform="translate(42.9,15.05) scale(1,0.9)">▾</text><rect class="wc" x="62.67" y="0" width="1" height="5.8"/><rect class="bc" x="62.67" y="5.8" width="1" height="4.2"/><rect class="wc" x="62.67" y="10" width="1" height="2.8"/><rect class="bc" x="62.67" y="12.8" width="1" height="1.2"/><rect class="wc" x="62.67" y="14" width="1" height="3"/><rect class="bc" x="62.67" y="17" width="1" height="3"/><rect class="wc" x="62.67" y="20" width="1" height="6"/></g><g transform="translate(0,26)"><rect class="pk" x="242.33" y="0" width="1" height="1"/><path class="d" fill="rgb(30,82,54)" transform="translate(1,1)" d="m 0,0 H 15 l 6,4 3,0 6,-4 H 242.33 v 5 c 0,10 -8,-8 -8,7.5 s 8,-2.5 8,7.5 v 5 H 29.5 l -6,4 -3,0 -6,-4 H 0 z "/><path fill="#266643" d="m 0,0 H 15 l 6,4 3,0 6,-4 H 242.33 v 5 c 0,10 -8,-8 -8,7.5 s 8,-2.5 8,7.5 v 5 H 29.5 l -6,4 -3,0 -6,-4 H 0 z "/><path class="l" stroke="rgb(103,148,123)" d="m 0.5,0.5 H 15 l 6,4 3,0 6,-4 H 241.83 M 241.83,0.5 M 237.33,19.3 l 3.68,-2.1 M 0.5,24.5 V 0.5 "/><text class="w" x="10" y="18" textLength="24">set </text><rect class="e" x="39" y="5" width="81.67" height="16" rx="4" ry="4"/><text class="k" x="44" y="18" textLength="55">Registre</text><text class="a" fill="#266643" transform="translate(106.9,15.05) scale(1,0.9)">▾</text><text class="w dot" x="125.97" y="18">.</text><rect class="e" x="134.67" y="5" width="68.67" height="16" rx="4" ry="4"/><text class="k" x="139.67" y="18" textLength="42">Visible</text><text class="a" fill="#266643" transform="translate(189.57,15.05) scale(1,0.9)">▾</text><text class="w" x="208.33" y="18" textLength="16"> to</text><g transform="translate(243.33,0)"><path class="d" fill="rgb(95,137,52)" transform="translate(1,1)" d="m 0,0 H 61.67 v 25 H 0 V 20 c 0,-10 -8,8 -8,-7.5 s 8,2.5 8,-7.5 z "/><path fill="#77AB41" d="m 0,0 H 61.67 v 25 H 0 V 20 c 0,-10 -8,8 -8,-7.5 s 8,2.5 8,-7.5 z "/><path class="l" stroke="rgb(160,196,122)" d="m 0.5,0.5 H 61.17 M 61.17,0.5 M 0.5,24.5 V 18.5 m -7.36,-0.5 q -1.52,-5.5 0,-11 m 7.36,1 V 0.5 H 1 "/><rect class="e" x="5" y="5" width="51.67" height="16" rx="4" ry="4"/><text class="k" x="10" y="18" textLength="25">true</text><text class="a" fill="#77AB41" transform="translate(42.9,15.05) scale(1,0.9)">▾</text><rect class="wc" x="62.67" y="0" width="1" height="5.8"/><rect class="bc" x="62.67" y="5.8" width="1" height="4.2"/><rect class="wc" x="62.67" y="10" width="1" height="2.8"/><rect class="bc" x="62.67" y="12.8" width="1" height="1.2"/><rect class="wc" x="62.67" y="14" width="1" height="3"/><rect class="bc" x="62.67" y="17" width="1" height="3"/><rect class="wc" x="62.67" y="20" width="1" height="6"/></g><g transform="translate(0,26)"><rect class="pk" x="326.33" y="0" width="1" height="1"/><path class="d" fill="rgb(30,82,54)" transform="translate(1,1)" d="m 0,0 H 15 l 6,4 3,0 6,-4 H 326.33 v 5 c 0,10 -8,-8 -8,7.5 s 8,-2.5 8,7.5 v 5 H 29.5 l -6,4 -3,0 -6,-4 H 0 z "/><path fill="#266643" d="m 0,0 H 15 l 6,4 3,0 6,-4 H 326.33 v 5 c 0,10 -8,-8 -8,7.5 s 8,-2.5 8,7.5 v 5 H 29.5 l -6,4 -3,0 -6,-4 H 0 z "/><path class="l" stroke="rgb(103,148,123)" d="m 0.5,0.5 H 15 l 6,4 3,0 6,-4 H 325.83 M 325.83,0.5 M 321.33,19.3 l 3.68,-2.1 M 0.5,24.5 V 0.5 "/><text class="w" x="10" y="18" textLength="24">set </text><rect class="e" x="39" y="5" width="165.67" height="16" rx="4" ry="4"/><text class="k" x="44" y="18" textLength="139">VerticalArrangement9</text><text class="a" fill="#266643" transform="translate(190.9,15.05) scale(1,0.9)">▾</text><text class="w dot" x="209.97" y="18">.</text><rect class="e" x="218.67" y="5" width="68.67" height="16" rx="4" ry="4"/><text class="k" x="223.67" y="18" textLength="42">Visible</text><text class="a" fill="#266643" transform="translate(273.57,15.05) scale(1,0.9)">▾</text><text class="w" x="292.33" y="18" textLength="16"> to</text><g transform="translate(327.33,0)"><path class="d" fill="rgb(95,137,52)" transform="translate(1,1)" d="m 0,0 H 61.67 v 25 H 0 V 20 c 0,-10 -8,8 -8,-7.5 s 8,2.5 8,-7.5 z "/><path fill="#77AB41" d="m 0,0 H 61.67 v 25 H 0 V 20 c 0,-10 -8,8 -8,-7.5 s 8,2.5 8,-7.5 z "/><path class="l" stroke="rgb(160,196,122)" d="m 0.5,0.5 H 61.17 M 61.17,0.5 M 0.5,24.5 V 18.5 m -7.36,-0.5 q -1.52,-5.5 0,-11 m 7.36,1 V 0.5 H 1 "/><rect class="e" x="5" y="5" width="51.67" height="16" rx="4" ry="4"/><text class="k" x="10" y="18" textLength="25">true</text><text class="a" fill="#77AB41" transform="translate(42.9,15.05) scale(1,0.9)">▾</text><rect class="wc" x="62.67" y="0" width="1" height="5.8"/><rect class="bc" x="62.67" y="5.8" width="1" height="4.2"/><rect class="wc" x="62.67" y="10" width="1" height="2.8"/><rect class="bc" x="62.67" y="12.8" width="1" height="1.2"/><rect class="wc" x="62.67" y="14" width="1" height="3"/><rect class="bc" x="62.67" y="17" width="1" height="3"/><rect class="wc" x="62.67" y="20" width="1" height="6"/></g><g transform="translate(0,26)"><rect class="pk" x="318.33" y="0" width="1" height="1"/><path class="d" fill="rgb(30,82,54)" transform="translate(1,1)" d="m 0,0 H 15 l 6,4 3,0 6,-4 H 318.33 v 5 c 0,10 -8,-8 -8,7.5 s 8,-2.5 8,7.5 v 5 H 29.5 l -6,4 -3,0 -6,-4 H 0 z "/><path fill="#266643" d="m 0,0 H 15 l 6,4 3,0 6,-4 H 318.33 v 5 c 0,10 -8,-8 -8,7.5 s 8,-2.5 8,7.5 v 5 H 29.5 l -6,4 -3,0 -6,-4 H 0 z "/><path class="l" stroke="rgb(103,148,123)" d="m 0.5,0.5 H 15 l 6,4 3,0 6,-4 H 317.83 M 317.83,0.5 M 313.33,19.3 l 3.68,-2.1 M 0.5,24.5 V 0.5 "/><text class="w" x="10" y="18" textLength="24">set </text><rect class="e" x="39" y="5" width="157.67" height="16" rx="4" ry="4"/><text class="k" x="44" y="18" textLength="131">DisposiciónVertical2</text><text class="a" fill="#266643" transform="translate(182.9,15.05) scale(1,0.9)">▾</text><text class="w dot" x="201.97" y="18">.</text><rect class="e" x="210.67" y="5" width="68.67" height="16" rx="4" ry="4"/><text class="k" x="215.67" y="18" textLength="42">Visible</text><text class="a" fill="#266643" transform="translate(265.57,15.05) scale(1,0.9)">▾</text><text class="w" x="284.33" y="18" textLength="16"> to</text><g transform="translate(319.33,0)"><path class="d" fill="rgb(95,137,52)" transform="translate(1,1)" d="m 0,0 H 61.67 v 25 H 0 V 20 c 0,-10 -8,8 -8,-7.5 s 8,2.5 8,-7.5 z "/><path fill="#77AB41" d="m 0,0 H 61.67 v 25 H 0 V 20 c 0,-10 -8,8 -8,-7.5 s 8,2.5 8,-7.5 z "/><path class="l" stroke="rgb(160,196,122)" d="m 0.5,0.5 H 61.17 M 61.17,0.5 M 0.5,24.5 V 18.5 m -7.36,-0.5 q -1.52,-5.5 0,-11 m 7.36,1 V 0.5 H 1 "/><rect class="e" x="5" y="5" width="51.67" height="16" rx="4" ry="4"/><text class="k" x="10" y="18" textLength="25">true</text><text class="a" fill="#77AB41" transform="translate(42.9,15.05) scale(1,0.9)">▾</text><rect class="wc" x="62.67" y="0" width="1" height="5.8"/><rect class="bc" x="62.67" y="5.8" width="1" height="4.2"/><rect class="wc" x="62.67" y="10" width="1" height="2.8"/><rect class="bc" x="62.67" y="12.8" width="1" height="1.2"/><rect class="wc" x="62.67" y="14" width="1" height="3"/><rect class="bc" x="62.67" y="17" width="1" height="3"/><rect class="wc" x="62.67" y="20" width="1" height="6"/></g><g transform="translate(0,26)"><rect class="pk" x="318.33" y="0" width="1" height="1"/><path class="d" fill="rgb(30,82,54)" transform="translate(1,1)" d="m 0,0 H 15 l 6,4 3,0 6,-4 H 318.33 v 5 c 0,10 -8,-8 -8,7.5 s 8,-2.5 8,7.5 v 5 H 29.5 l -6,4 -3,0 -6,-4 H 0 z "/><path fill="#266643" d="m 0,0 H 15 l 6,4 3,0 6,-4 H 318.33 v 5 c 0,10 -8,-8 -8,7.5 s 8,-2.5 8,7.5 v 5 H 29.5 l -6,4 -3,0 -6,-4 H 0 z "/><path class="l" stroke="rgb(103,148,123)" d="m 0.5,0.5 H 15 l 6,4 3,0 6,-4 H 317.83 M 317.83,0.5 M 313.33,19.3 l 3.68,-2.1 M 0.5,24.5 V 0.5 "/><text class="w" x="10" y="18" textLength="24">set </text><rect class="e" x="39" y="5" width="157.67" height="16" rx="4" ry="4"/><text class="k" x="44" y="18" textLength="131">DisposiciónVertical3</text><text class="a" fill="#266643" transform="translate(182.9,15.05) scale(1,0.9)">▾</text><text class="w dot" x="201.97" y="18">.</text><rect class="e" x="210.67" y="5" width="68.67" height="16" rx="4" ry="4"/><text class="k" x="215.67" y="18" textLength="42">Visible</text><text class="a" fill="#266643" transform="translate(265.57,15.05) scale(1,0.9)">▾</text><text class="w" x="284.33" y="18" textLength="16"> to</text><g transform="translate(319.33,0)"><path class="d" fill="rgb(95,137,52)" transform="translate(1,1)" d="m 0,0 H 61.67 v 25 H 0 V 20 c 0,-10 -8,8 -8,-7.5 s 8,2.5 8,-7.5 z "/><path fill="#77AB41" d="m 0,0 H 61.67 v 25 H 0 V 20 c 0,-10 -8,8 -8,-7.5 s 8,2.5 8,-7.5 z "/><path class="l" stroke="rgb(160,196,122)" d="m 0.5,0.5 H 61.17 M 61.17,0.5 M 0.5,24.5 V 18.5 m -7.36,-0.5 q -1.52,-5.5 0,-11 m 7.36,1 V 0.5 H 1 "/><rect class="e" x="5" y="5" width="51.67" height="16" rx="4" ry="4"/><text class="k" x="10" y="18" textLength="25">true</text><text class="a" fill="#77AB41" transform="translate(42.9,15.05) scale(1,0.9)">▾</text><rect class="wc" x="62.67" y="0" width="1" height="5.8"/><rect class="bc" x="62.67" y="5.8" width="1" height="4.2"/><rect class="wc" x="62.67" y="10" width="1" height="2.8"/><rect class="bc" x="62.67" y="12.8" width="1" height="1.2"/><rect class="wc" x="62.67" y="14" width="1" height="3"/><rect class="bc" x="62.67" y="17" width="1" height="3"/><rect class="wc" x="62.67" y="20" width="1" height="6"/></g><g transform="translate(0,26)"><rect class="pk" x="318.33" y="0" width="1" height="1"/><path class="d" fill="rgb(30,82,54)" transform="translate(1,1)" d="m 0,0 H 15 l 6,4 3,0 6,-4 H 318.33 v 5 c 0,10 -8,-8 -8,7.5 s 8,-2.5 8,7.5 v 5 H 29.5 l -6,4 -3,0 -6,-4 H 0 z "/><path fill="#266643" d="m 0,0 H 15 l 6,4 3,0 6,-4 H 318.33 v 5 c 0,10 -8,-8 -8,7.5 s 8,-2.5 8,7.5 v 5 H 29.5 l -6,4 -3,0 -6,-4 H 0 z "/><path class="l" stroke="rgb(103,148,123)" d="m 0.5,0.5 H 15 l 6,4 3,0 6,-4 H 317.83 M 317.83,0.5 M 313.33,19.3 l 3.68,-2.1 M 0.5,24.5 V 0.5 "/><text class="w" x="10" y="18" textLength="24">set </text><rect class="e" x="39" y="5" width="157.67" height="16" rx="4" ry="4"/><text class="k" x="44" y="18" textLength="131">DisposiciónVertical4</text><text class="a" fill="#266643" transform="translate(182.9,15.05) scale(1,0.9)">▾</text><text class="w dot" x="201.97" y="18">.</text><rect class="e" x="210.67" y="5" width="68.67" height="16" rx="4" ry="4"/><text class="k" x="215.67" y="18" textLength="42">Visible</text><text class="a" fill="#266643" transform="translate(265.57,15.05) scale(1,0.9)">▾</text><text class="w" x="284.33" y="18" textLength="16"> to</text><g transform="translate(319.33,0)"><path class="d" fill="rgb(95,137,52)" transform="translate(1,1)" d="m 0,0 H 61.67 v 25 H 0 V 20 c 0,-10 -8,8 -8,-7.5 s 8,2.5 8,-7.5 z "/><path fill="#77AB41" d="m 0,0 H 61.67 v 25 H 0 V 20 c 0,-10 -8,8 -8,-7.5 s 8,2.5 8,-7.5 z "/><path class="l" stroke="rgb(160,196,122)" d="m 0.5,0.5 H 61.17 M 61.17,0.5 M 0.5,24.5 V 18.5 m -7.36,-0.5 q -1.52,-5.5 0,-11 m 7.36,1 V 0.5 H 1 "/><rect class="e" x="5" y="5" width="51.67" height="16" rx="4" ry="4"/><text class="k" x="10" y="18" textLength="25">true</text><text class="a" fill="#77AB41" transform="translate(42.9,15.05) scale(1,0.9)">▾</text><rect class="wc" x="62.67" y="0" width="1" height="5.8"/><rect class="bc" x="62.67" y="5.8" width="1" height="4.2"/><rect class="wc" x="62.67" y="10" width="1" height="2.8"/><rect class="bc" x="62.67" y="12.8" width="1" height="1.2"/><rect class="wc" x="62.67" y="14" width="1" height="3"/><rect class="bc" x="62.67" y="17" width="1" height="3"/><rect class="wc" x="62.67" y="20" width="1" height="6"/></g><g transform="translate(0,26)"><rect class="pk" x="245.33" y="0" width="1" height="1"/><path class="d" fill="rgb(30,82,54)" transform="translate(1,1)" d="m 0,0 H 15 l 6,4 3,0 6,-4 H 245.33 v 5 c 0,10 -8,-8 -8,7.5 s 8,-2.5 8,7.5 v 5 H 29.5 l -6,4 -3,0 -6,-4 H 0 z "/><path fill="#266643" d="m 0,0 H 15 l 6,4 3,0 6,-4 H 245.33 v 5 c 0,10 -8,-8 -8,7.5 s 8,-2.5 8,7.5 v 5 H 29.5 l -6,4 -3,0 -6,-4 H 0 z "/><path class="l" stroke="rgb(103,148,123)" d="m 0.5,0.5 H 15 l 6,4 3,0 6,-4 H 244.83 M 244.83,0.5 M 240.33,19.3 l 3.68,-2.1 M 0.5,24.5 V 0.5 "/><text class="w" x="10" y="18" textLength="24">set </text><rect class="e" x="39" y="5" width="84.67" height="16" rx="4" ry="4"/><text class="k" x="44" y="18" textLength="58">E_18_25</text><text class="a" fill="#266643" transform="translate(109.9,15.05) scale(1,0.9)">▾</text><text class="w dot" x="128.97" y="18">.</text><rect class="e" x="137.67" y="5" width="68.67" height="16" rx="4" ry="4"/><text class="k" x="142.67" y="18" textLength="42">Visible</text><text class="a" fill="#266643" transform="translate(192.57,15.05) scale(1,0.9)">▾</text><text class="w" x="211.33" y="18" textLength="16"> to</text><g transform="translate(246.33,0)"><path class="d" fill="rgb(95,137,52)" transform="translate(1,1)" d="m 0,0 H 67.67 v 25 H 0 V 20 c 0,-10 -8,8 -8,-7.5 s 8,2.5 8,-7.5 z "/><path fill="#77AB41" d="m 0,0 H 67.67 v 25 H 0 V 20 c 0,-10 -8,8 -8,-7.5 s 8,2.5 8,-7.5 z "/><path class="l" stroke="rgb(160,196,122)" d="m 0.5,0.5 H 67.17 M 67.17,0.5 M 0.5,24.5 V 18.5 m -7.36,-0.5 q -1.52,-5.5 0,-11 m 7.36,1 V 0.5 H 1 "/><rect class="e" x="5" y="5" width="57.67" height="16" rx="4" ry="4"/><text class="k" x="10" y="18" textLength="31">false</text><text class="a" fill="#77AB41" transform="translate(48.9,15.05) scale(1,0.9)">▾</text><rect class="wc" x="68.67" y="0" width="1" height="5.8"/><rect class="bc" x="68.67" y="5.8" width="1" height="4.2"/><rect class="wc" x="68.67" y="10" width="1" height="2.8"/><rect class="bc" x="68.67" y="12.8" width="1" height="1.2"/><rect class="wc" x="68.67" y="14" width="1" height="3"/><rect class="bc" x="68.67" y="17" width="1" height="3"/><rect class="wc" x="68.67" y="20" width="1" height="6"/></g><g transform="translate(0,26)"><rect class="pk" x="245.33" y="0" width="1" height="1"/><path class="d" fill="rgb(30,82,54)" transform="translate(1,1)" d="m 0,0 H 15 l 6,4 3,0 6,-4 H 245.33 v 5 c 0,10 -8,-8 -8,7.5 s 8,-2.5 8,7.5 v 5 H 29.5 l -6,4 -3,0 -6,-4 H 0 z "/><path fill="#266643" d="m 0,0 H 15 l 6,4 3,0 6,-4 H 245.33 v 5 c 0,10 -8,-8 -8,7.5 s 8,-2.5 8,7.5 v 5 H 29.5 l -6,4 -3,0 -6,-4 H 0 z "/><path class="l" stroke="rgb(103,148,123)" d="m 0.5,0.5 H 15 l 6,4 3,0 6,-4 H 244.83 M 244.83,0.5 M 240.33,19.3 l 3.68,-2.1 M 0.5,24.5 V 0.5 "/><text class="w" x="10" y="18" textLength="24">set </text><rect class="e" x="39" y="5" width="84.67" height="16" rx="4" ry="4"/><text class="k" x="44" y="18" textLength="58">E_26_35</text><text class="a" fill="#266643" transform="translate(109.9,15.05) scale(1,0.9)">▾</text><text class="w dot" x="128.97" y="18">.</text><rect class="e" x="137.67" y="5" width="68.67" height="16" rx="4" ry="4"/><text class="k" x="142.67" y="18" textLength="42">Visible</text><text class="a" fill="#266643" transform="translate(192.57,15.05) scale(1,0.9)">▾</text><text class="w" x="211.33" y="18" textLength="16"> to</text><g transform="translate(246.33,0)"><path class="d" fill="rgb(95,137,52)" transform="translate(1,1)" d="m 0,0 H 67.67 v 25 H 0 V 20 c 0,-10 -8,8 -8,-7.5 s 8,2.5 8,-7.5 z "/><path fill="#77AB41" d="m 0,0 H 67.67 v 25 H 0 V 20 c 0,-10 -8,8 -8,-7.5 s 8,2.5 8,-7.5 z "/><path class="l" stroke="rgb(160,196,122)" d="m 0.5,0.5 H 67.17 M 67.17,0.5 M 0.5,24.5 V 18.5 m -7.36,-0.5 q -1.52,-5.5 0,-11 m 7.36,1 V 0.5 H 1 "/><rect class="e" x="5" y="5" width="57.67" height="16" rx="4" ry="4"/><text class="k" x="10" y="18" textLength="31">false</text><text class="a" fill="#77AB41" transform="translate(48.9,15.05) scale(1,0.9)">▾</text><rect class="wc" x="68.67" y="0" width="1" height="5.8"/><rect class="bc" x="68.67" y="5.8" width="1" height="4.2"/><rect class="wc" x="68.67" y="10" width="1" height="2.8"/><rect class="bc" x="68.67" y="12.8" width="1" height="1.2"/><rect class="wc" x="68.67" y="14" width="1" height="3"/><rect class="bc" x="68.67" y="17" width="1" height="3"/><rect class="wc" x="68.67" y="20" width="1" height="6"/></g><g transform="translate(0,26)"><rect class="pk" x="221.33" y="0" width="1" height="1"/><path class="d" fill="rgb(30,82,54)" transform="translate(1,1)" d="m 0,0 H 15 l 6,4 3,0 6,-4 H 221.33 v 5 c 0,10 -8,-8 -8,7.5 s 8,-2.5 8,7.5 v 5 H 29.5 l -6,4 -3,0 -6,-4 H 0 z "/><path fill="#266643" d="m 0,0 H 15 l 6,4 3,0 6,-4 H 221.33 v 5 c 0,10 -8,-8 -8,7.5 s 8,-2.5 8,7.5 v 5 H 29.5 l -6,4 -3,0 -6,-4 H 0 z "/><path class="l" stroke="rgb(103,148,123)" d="m 0.5,0.5 H 15 l 6,4 3,0 6,-4 H 220.83 M 220.83,0.5 M 216.33,19.3 l 3.68,-2.1 M 0.5,24.5 V 0.5 "/><text class="w" x="10" y="18" textLength="24">set </text><rect class="e" x="39" y="5" width="60.67" height="16" rx="4" ry="4"/><text class="k" x="44" y="18" textLength="34">E_35</text><text class="a" fill="#266643" transform="translate(85.9,15.05) scale(1,0.9)">▾</text><text class="w dot" x="104.97" y="18">.</text><rect class="e" x="113.67" y="5" width="68.67" height="16" rx="4" ry="4"/><text class="k" x="118.67" y="18" textLength="42">Visible</text><text class="a" fill="#266643" transform="translate(168.57,15.05) scale(1,0.9)">▾</text><text class="w" x="187.33" y="18" textLength="16"> to</text><g transform="translate(222.33,0)"><path class="d" fill="rgb(95,137,52)" transform="translate(1,1)" d="m 0,0 H 67.67 v 25 H 0 V 20 c 0,-10 -8,8 -8,-7.5 s 8,2.5 8,-7.5 z "/><path fill="#77AB41" d="m 0,0 H 67.67 v 25 H 0 V 20 c 0,-10 -8,8 -8,-7.5 s 8,2.5 8,-7.5 z "/><path class="l" stroke="rgb(160,196,122)" d="m 0.5,0.5 H 67.17 M 67.17,0.5 M 0.5,24.5 V 18.5 m -7.36,-0.5 q -1.52,-5.5 0,-11 m 7.36,1 V 0.5 H 1 "/><rect class="e" x="5" y="5" width="57.67" height="16" rx="4" ry="4"/><text class="k" x="10" y="18" textLength="31">false</text><text class="a" fill="#77AB41" transform="translate(48.9,15.05) scale(1,0.9)">▾</text><rect class="wc" x="68.67" y="0" width="1" height="5.8"/><rect class="bc" x="68.67" y="5.8" width="1" height="4.2"/><rect class="wc" x="68.67" y="10" width="1" height="2.8"/><rect class="bc" x="68.67" y="12.8" width="1" height="1.2"/><rect class="wc" x="68.67" y="14" width="1" height="3"/><rect class="bc" x="68.67" y="17" width="1" height="3"/><rect class="wc" x="68.67" y="20" width="1" height="6"/></g><g transform="translate(0,26)"><rect class="pk" x="251.33" y="0" width="1" height="1"/><path class="d" fill="rgb(30,82,54)" transform="translate(1,1)" d="m 0,0 H 15 l 6,4 3,0 6,-4 H 251.33 v 5 c 0,10 -8,-8 -8,7.5 s 8,-2.5 8,7.5 v 5 H 29.5 l -6,4 -3,0 -6,-4 H 0 z "/><path fill="#266643" d="m 0,0 H 15 l 6,4 3,0 6,-4 H 251.33 v 5 c 0,10 -8,-8 -8,7.5 s 8,-2.5 8,7.5 v 5 H 29.5 l -6,4 -3,0 -6,-4 H 0 z "/><path class="l" stroke="rgb(103,148,123)" d="m 0.5,0.5 H 15 l 6,4 3,0 6,-4 H 250.83 M 250.83,0.5 M 246.33,19.3 l 3.68,-2.1 M 0.5,24.5 V 0.5 "/><text class="w" x="10" y="18" textLength="24">set </text><rect class="e" x="39" y="5" width="90.67" height="16" rx="4" ry="4"/><text class="k" x="44" y="18" textLength="64">Sit_actual</text><text class="a" fill="#266643" transform="translate(115.9,15.05) scale(1,0.9)">▾</text><text class="w dot" x="134.97" y="18">.</text><rect class="e" x="143.67" y="5" width="68.67" height="16" rx="4" ry="4"/><text class="k" x="148.67" y="18" textLength="42">Visible</text><text class="a" fill="#266643" transform="translate(198.57,15.05) scale(1,0.9)">▾</text><text class="w" x="217.33" y="18" textLength="16"> to</text><g transform="translate(252.33,0)"><path class="d" fill="rgb(95,137,52)" transform="translate(1,1)" d="m 0,0 H 67.67 v 25 H 0 V 20 c 0,-10 -8,8 -8,-7.5 s 8,2.5 8,-7.5 z "/><path fill="#77AB41" d="m 0,0 H 67.67 v 25 H 0 V 20 c 0,-10 -8,8 -8,-7.5 s 8,2.5 8,-7.5 z "/><path class="l" stroke="rgb(160,196,122)" d="m 0.5,0.5 H 67.17 M 67.17,0.5 M 0.5,24.5 V 18.5 m -7.36,-0.5 q -1.52,-5.5 0,-11 m 7.36,1 V 0.5 H 1 "/><rect class="e" x="5" y="5" width="57.67" height="16" rx="4" ry="4"/><text class="k" x="10" y="18" textLength="31">false</text><text class="a" fill="#77AB41" transform="translate(48.9,15.05) scale(1,0.9)">▾</text><rect class="wc" x="68.67" y="0" width="1" height="5.8"/><rect class="bc" x="68.67" y="5.8" width="1" height="4.2"/><rect class="wc" x="68.67" y="10" width="1" height="2.8"/><rect class="bc" x="68.67" y="12.8" width="1" height="1.2"/><rect class="wc" x="68.67" y="14" width="1" height="3"/><rect class="bc" x="68.67" y="17" width="1" height="3"/><rect class="wc" x="68.67" y="20" width="1" height="6"/></g><g transform="translate(0,26)"><rect class="pk" x="249.33" y="0" width="1" height="1"/><path class="d" fill="rgb(30,82,54)" transform="translate(1,1)" d="m 0,0 H 15 l 6,4 3,0 6,-4 H 249.33 v 5 c 0,10 -8,-8 -8,7.5 s 8,-2.5 8,7.5 v 5 H 29.5 l -6,4 -3,0 -6,-4 H 0 z "/><path fill="#266643" d="m 0,0 H 15 l 6,4 3,0 6,-4 H 249.33 v 5 c 0,10 -8,-8 -8,7.5 s 8,-2.5 8,7.5 v 5 H 29.5 l -6,4 -3,0 -6,-4 H 0 z "/><path class="l" stroke="rgb(103,148,123)" d="m 0.5,0.5 H 15 l 6,4 3,0 6,-4 H 248.83 M 248.83,0.5 M 244.33,19.3 l 3.68,-2.1 M 0.5,24.5 V 0.5 "/><text class="w" x="10" y="18" textLength="24">set </text><rect class="e" x="39" y="5" width="88.67" height="16" rx="4" ry="4"/><text class="k" x="44" y="18" textLength="62">Enquesta</text><text class="a" fill="#266643" transform="translate(113.9,15.05) scale(1,0.9)">▾</text><text class="w dot" x="132.97" y="18">.</text><rect class="e" x="141.67" y="5" width="68.67" height="16" rx="4" ry="4"/><text class="k" x="146.67" y="18" textLength="42">Visible</text><text class="a" fill="#266643" transform="translate(196.57,15.05) scale(1,0.9)">▾</text><text class="w" x="215.33" y="18" textLength="16"> to</text><g transform="translate(250.33,0)"><path class="d" fill="rgb(95,137,52)" transform="translate(1,1)" d="m 0,0 H 67.67 v 25 H 0 V 20 c 0,-10 -8,8 -8,-7.5 s 8,2.5 8,-7.5 z "/><path fill="#77AB41" d="m 0,0 H 67.67 v 25 H 0 V 20 c 0,-10 -8,8 -8,-7.5 s 8,2.5 8,-7.5 z "/><path class="l" stroke="rgb(160,196,122)" d="m 0.5,0.5 H 67.17 M 67.17,0.5 M 0.5,24.5 V 18.5 m -7.36,-0.5 q -1.52,-5.5 0,-11 m 7.36,1 V 0.5 H 1 "/><rect class="e" x="5" y="5" width="57.67" height="16" rx="4" ry="4"/><text class="k" x="10" y="18" textLength="31">false</text><text class="a" fill="#77AB41" transform="translate(48.9,15.05) scale(1,0.9)">▾</text><rect class="wc" x="68.67" y="0" width="1" height="5.8"/><rect class="bc" x="68.67" y="5.8" width="1" height="4.2"/><rect class="wc" x="68.67" y="10" width="1" height="2.8"/><rect class="bc" x="68.67" y="12.8" width="1" height="1.2"/><rect class="wc" x="68.67" y="14" width="1" height="3"/><rect class="bc" x="68.67" y="17" width="1" height="3"/><rect class="wc" x="68.67" y="20" width="1" height="6"/></g><g transform="translate(0,26)"><rect class="pk" x="282.33" y="0" width="1" height="1"/><path class="d" fill="rgb(30,82,54)" transform="translate(1,1)" d="m 0,0 H 15 l 6,4 3,0 6,-4 H 282.33 v 5 c 0,10 -8,-8 -8,7.5 s 8,-2.5 8,7.5 v 5 H 29.5 l -6,4 -3,0 -6,-4 H 0 z "/><path fill="#266643" d="m 0,0 H 15 l 6,4 3,0 6,-4 H 282.33 v 5 c 0,10 -8,-8 -8,7.5 s 8,-2.5 8,7.5 v 5 H 29.5 l -6,4 -3,0 -6,-4 H 0 z "/><path class="l" stroke="rgb(103,148,123)" d="m 0.5,0.5 H 15 l 6,4 3,0 6,-4 H 281.83 M 281.83,0.5 M 277.33,19.3 l 3.68,-2.1 M 0.5,24.5 V 0.5 "/><text class="w" x="10" y="18" textLength="24">set </text><rect class="e" x="39" y="5" width="121.67" height="16" rx="4" ry="4"/><text class="k" x="44" y="18" textLength="95">BTN_Continua</text><text class="a" fill="#266643" transform="translate(146.9,15.05) scale(1,0.9)">▾</text><text class="w dot" x="165.97" y="18">.</text><rect class="e" x="174.67" y="5" width="68.67" height="16" rx="4" ry="4"/><text class="k" x="179.67" y="18" textLength="42">Visible</text><text class="a" fill="#266643" transform="translate(229.57,15.05) scale(1,0.9)">▾</text><text class="w" x="248.33" y="18" textLength="16"> to</text><g transform="translate(283.33,0)"><path class="d" fill="rgb(95,137,52)" transform="translate(1,1)" d="m 0,0 H 67.67 v 25 H 0 V 20 c 0,-10 -8,8 -8,-7.5 s 8,2.5 8,-7.5 z "/><path fill="#77AB41" d="m 0,0 H 67.67 v 25 H 0 V 20 c 0,-10 -8,8 -8,-7.5 s 8,2.5 8,-7.5 z "/><path class="l" stroke="rgb(160,196,122)" d="m 0.5,0.5 H 67.17 M 67.17,0.5 M 0.5,24.5 V 18.5 m -7.36,-0.5 q -1.52,-5.5 0,-11 m 7.36,1 V 0.5 H 1 "/><rect class="e" x="5" y="5" width="57.67" height="16" rx="4" ry="4"/><text class="k" x="10" y="18" textLength="31">false</text><text class="a" fill="#77AB41" transform="translate(48.9,15.05) scale(1,0.9)">▾</text><rect class="wc" x="68.67" y="0" width="1" height="5.8"/><rect class="bc" x="68.67" y="5.8" width="1" height="4.2"/><rect class="wc" x="68.67" y="10" width="1" height="2.8"/><rect class="bc" x="68.67" y="12.8" width="1" height="1.2"/><rect class="wc" x="68.67" y="14" width="1" height="3"/><rect class="bc" x="68.67" y="17" width="1" height="3"/><rect class="wc" x="68.67" y="20" width="1" height="6"/></g><g transform="translate(0,26)"><rect class="pk" x="341.33" y="0" width="1" height="1"/><path class="d" fill="rgb(30,82,54)" transform="translate(1,1)" d="m 0,0 H 15 l 6,4 3,0 6,-4 H 341.33 v 5 c 0,10 -8,-8 -8,7.5 s 8,-2.5 8,7.5 v 5 H 29.5 l -6,4 -3,0 -6,-4 H 0 z "/><path fill="#266643" d="m 0,0 H 15 l 6,4 3,0 6,-4 H 341.33 v 5 c 0,10 -8,-8 -8,7.5 s 8,-2.5 8,7.5 v 5 H 29.5 l -6,4 -3,0 -6,-4 H 0 z "/><path class="l" stroke="rgb(103,148,123)" d="m 0.5,0.5 H 15 l 6,4 3,0 6,-4 H 340.83 M 340.83,0.5 M 336.33,19.3 l 3.68,-2.1 M 0.5,24.5 V 0.5 "/><text class="w" x="10" y="18" textLength="24">set </text><rect class="e" x="39" y="5" width="180.67" height="16" rx="4" ry="4"/><text class="k" x="44" y="18" textLength="154">Registrado_bien_o_mal</text><text class="a" fill="#266643" transform="translate(205.9,15.05) scale(1,0.9)">▾</text><text class="w dot" x="224.97" y="18">.</text><rect class="e" x="233.67" y="5" width="68.67" height="16" rx="4" ry="4"/><text class="k" x="238.67" y="18" textLength="42">Visible</text><text class="a" fill="#266643" transform="translate(288.57,15.05) scale(1,0.9)">▾</text><text class="w" x="307.33" y="18" textLength="16"> to</text><g transform="translate(342.33,0)"><path class="d" fill="rgb(95,137,52)" transform="translate(1,1)" d="m 0,0 H 61.67 v 25 H 0 V 20 c 0,-10 -8,8 -8,-7.5 s 8,2.5 8,-7.5 z "/><path fill="#77AB41" d="m 0,0 H 61.67 v 25 H 0 V 20 c 0,-10 -8,8 -8,-7.5 s 8,2.5 8,-7.5 z "/><path class="l" stroke="rgb(160,196,122)" d="m 0.5,0.5 H 61.17 M 61.17,0.5 M 0.5,24.5 V 18.5 m -7.36,-0.5 q -1.52,-5.5 0,-11 m 7.36,1 V 0.5 H 1 "/><rect class="e" x="5" y="5" width="51.67" height="16" rx="4" ry="4"/><text class="k" x="10" y="18" textLength="25">true</text><text class="a" fill="#77AB41" transform="translate(42.9,15.05) scale(1,0.9)">▾</text><rect class="wc" x="62.67" y="0" width="1" height="5.8"/><rect class="bc" x="62.67" y="5.8" width="1" height="4.2"/><rect class="wc" x="62.67" y="10" width="1" height="2.8"/><rect class="bc" x="62.67" y="12.8" width="1" height="1.2"/><rect class="wc" x="62.67" y="14" width="1" height="3"/><rect class="bc" x="62.67" y="17" width="1" height="3"/><rect class="wc" x="62.67" y="20" width="1" height="6"/></g><g transform="translate(0,26)"><rect class="pk" x="264.33" y="0" width="1" height="1"/><path class="d" fill="rgb(30,82,54)" transform="translate(1,1)" d="m 0,0 H 15 l 6,4 3,0 6,-4 H 264.33 v 5 c 0,10 -8,-8 -8,7.5 s 8,-2.5 8,7.5 v 5 H 29.5 l -6,4 -3,0 -6,-4 H 0 z "/><path fill="#266643" d="m 0,0 H 15 l 6,4 3,0 6,-4 H 264.33 v 5 c 0,10 -8,-8 -8,7.5 s 8,-2.5 8,7.5 v 5 H 29.5 l -6,4 -3,0 -6,-4 H 0 z "/><path class="l" stroke="rgb(103,148,123)" d="m 0.5,0.5 H 15 l 6,4 3,0 6,-4 H 263.83 M 263.83,0.5 M 259.33,19.3 l 3.68,-2.1 M 0.5,24.5 V 0.5 "/><text class="w" x="10" y="18" textLength="24">set </text><rect class="e" x="39" y="5" width="103.67" height="16" rx="4" ry="4"/><text class="k" x="44" y="18" textLength="77">Personalitat</text><text class="a" fill="#266643" transform="translate(128.9,15.05) scale(1,0.9)">▾</text><text class="w dot" x="147.97" y="18">.</text><rect class="e" x="156.67" y="5" width="68.67" height="16" rx="4" ry="4"/><text class="k" x="161.67" y="18" textLength="42">Visible</text><text class="a" fill="#266643" transform="translate(211.57,15.05) scale(1,0.9)">▾</text><text class="w" x="230.33" y="18" textLength="16"> to</text><g transform="translate(265.33,0)"><path class="d" fill="rgb(95,137,52)" transform="translate(1,1)" d="m 0,0 H 67.67 v 25 H 0 V 20 c 0,-10 -8,8 -8,-7.5 s 8,2.5 8,-7.5 z "/><path fill="#77AB41" d="m 0,0 H 67.67 v 25 H 0 V 20 c 0,-10 -8,8 -8,-7.5 s 8,2.5 8,-7.5 z "/><path class="l" stroke="rgb(160,196,122)" d="m 0.5,0.5 H 67.17 M 67.17,0.5 M 0.5,24.5 V 18.5 m -7.36,-0.5 q -1.52,-5.5 0,-11 m 7.36,1 V 0.5 H 1 "/><rect class="e" x="5" y="5" width="57.67" height="16" rx="4" ry="4"/><text class="k" x="10" y="18" textLength="31">false</text><text class="a" fill="#77AB41" transform="translate(48.9,15.05) scale(1,0.9)">▾</text><rect class="wc" x="68.67" y="0" width="1" height="5.8"/><rect class="bc" x="68.67" y="5.8" width="1" height="4.2"/><rect class="wc" x="68.67" y="10" width="1" height="2.8"/><rect class="bc" x="68.67" y="12.8" width="1" height="1.2"/><rect class="wc" x="68.67" y="14" width="1" height="3"/><rect class="bc" x="68.67" y="17" width="1" height="3"/><rect class="wc" x="68.67" y="20" width="1" height="6"/></g><g transform="translate(0,26)"><rect class="pk" x="214.33" y="0" width="1" height="1"/><path class="d" fill="rgb(30,82,54)" transform="translate(1,1)" d="m 0,0 H 15 l 6,4 3,0 6,-4 H 214.33 v 5 c 0,10 -8,-8 -8,7.5 s 8,-2.5 8,7.5 v 5 H 29.5 l -6,4 -3,0 -6,-4 H 0 z "/><path fill="#266643" d="m 0,0 H 15 l 6,4 3,0 6,-4 H 214.33 v 5 c 0,10 -8,-8 -8,7.5 s 8,-2.5 8,7.5 v 5 H 29.5 l -6,4 -3,0 -6,-4 H 0 z "/><path class="l" stroke="rgb(103,148,123)" d="m 0.5,0.5 H 15 l 6,4 3,0 6,-4 H 213.83 M 213.83,0.5 M 209.33,19.3 l 3.68,-2.1 M 0.5,24.5 V 0.5 "/><text class="w" x="10" y="18" textLength="24">set </text><rect class="e" x="39" y="5" width="53.67" height="16" rx="4" ry="4"/><text class="k" x="44" y="18" textLength="27">Pref</text><text class="a" fill="#266643" transform="translate(78.9,15.05) scale(1,0.9)">▾</text><text class="w dot" x="97.97" y="18">.</text><rect class="e" x="106.67" y="5" width="68.67" height="16" rx="4" ry="4"/><text class="k" x="111.67" y="18" textLength="42">Visible</text><text class="a" fill="#266643" transform="translate(161.57,15.05) scale(1,0.9)">▾</text><text class="w" x="180.33" y="18" textLength="16"> to</text><g transform="translate(215.33,0)"><path class="d" fill="rgb(95,137,52)" transform="translate(1,1)" d="m 0,0 H 67.67 v 25 H 0 V 20 c 0,-10 -8,8 -8,-7.5 s 8,2.5 8,-7.5 z "/><path fill="#77AB41" d="m 0,0 H 67.67 v 25 H 0 V 20 c 0,-10 -8,8 -8,-7.5 s 8,2.5 8,-7.5 z "/><path class="l" stroke="rgb(160,196,122)" d="m 0.5,0.5 H 67.17 M 67.17,0.5 M 0.5,24.5 V 18.5 m -7.36,-0.5 q -1.52,-5.5 0,-11 m 7.36,1 V 0.5 H 1 "/><rect class="e" x="5" y="5" width="57.67" height="16" rx="4" ry="4"/><text class="k" x="10" y="18" textLength="31">false</text><text class="a" fill="#77AB41" transform="translate(48.9,15.05) scale(1,0.9)">▾</text><rect class="wc" x="68.67" y="0" width="1" height="5.8"/><rect class="bc" x="68.67" y="5.8" width="1" height="4.2"/><rect class="wc" x="68.67" y="10" width="1" height="2.8"/><rect class="bc" x="68.67" y="12.8" width="1" height="1.2"/><rect class="wc" x="68.67" y="14" width="1" height="3"/><rect class="bc" x="68.67" y="17" width="1" height="3"/><rect class="wc" x="68.67" y="20" width="1" height="6"/></g><g transform="translate(0,26)"><rect class="pk" x="336.33" y="0" width="1" height="1"/><path class="d" fill="rgb(30,82,54)" transform="translate(1,1)" d="m 0,0 H 15 l 6,4 3,0 6,-4 H 336.33 v 5 c 0,10 -8,-8 -8,7.5 s 8,-2.5 8,7.5 v 5 H 29.5 l -6,4 -3,0 -6,-4 H 0 z "/><path fill="#266643" d="m 0,0 H 15 l 6,4 3,0 6,-4 H 336.33 v 5 c 0,10 -8,-8 -8,7.5 s 8,-2.5 8,7.5 v 5 H 29.5 l -6,4 -3,0 -6,-4 H 0 z "/><path class="l" stroke="rgb(103,148,123)" d="m 0.5,0.5 H 15 l 6,4 3,0 6,-4 H 335.83 M 335.83,0.5 M 331.33,19.3 l 3.68,-2.1 M 0.5,24.5 V 0.5 "/><text class="w" x="10" y="18" textLength="24">set </text><rect class="e" x="39" y="5" width="175.67" height="16" rx="4" ry="4"/><text class="k" x="44" y="18" textLength="149">DisposiciónHorizontal1</text><text class="a" fill="#266643" transform="translate(200.9,15.05) scale(1,0.9)">▾</text><text class="w dot" x="219.97" y="18">.</text><rect class="e" x="228.67" y="5" width="68.67" height="16" rx="4" ry="4"/><text class="k" x="233.67" y="18" textLength="42">Visible</text><text class="a" fill="#266643" transform="translate(283.57,15.05) scale(1,0.9)">▾</text><text class="w" x="302.33" y="18" textLength="16"> to</text><g transform="translate(337.33,0)"><path class="d" fill="rgb(95,137,52)" transform="translate(1,1)" d="m 0,0 H 67.67 v 25 H 0 V 20 c 0,-10 -8,8 -8,-7.5 s 8,2.5 8,-7.5 z "/><path fill="#77AB41" d="m 0,0 H 67.67 v 25 H 0 V 20 c 0,-10 -8,8 -8,-7.5 s 8,2.5 8,-7.5 z "/><path class="l" stroke="rgb(160,196,122)" d="m 0.5,0.5 H 67.17 M 67.17,0.5 M 0.5,24.5 V 18.5 m -7.36,-0.5 q -1.52,-5.5 0,-11 m 7.36,1 V 0.5 H 1 "/><rect class="e" x="5" y="5" width="57.67" height="16" rx="4" ry="4"/><text class="k" x="10" y="18" textLength="31">false</text><text class="a" fill="#77AB41" transform="translate(48.9,15.05) scale(1,0.9)">▾</text><rect class="wc" x="68.67" y="0" width="1" height="5.8"/><rect class="bc" x="68.67" y="5.8" width="1" height="4.2"/><rect class="wc" x="68.67" y="10" width="1" height="2.8"/><rect class="bc" x="68.67" y="12.8" width="1" height="1.2"/><rect class="wc" x="68.67" y="14" width="1" height="3"/><rect class="bc" x="68.67" y="17" width="1" height="3"/><rect class="wc" x="68.67" y="20" width="1" height="6"/></g><g transform="translate(0,26)"><rect class="pk" x="416.33" y="0" width="1" height="1"/><path class="d" fill="rgb(30,82,54)" transform="translate(1,1)" d="m 0,0 H 15 l 6,4 3,0 6,-4 H 416.33 v 5 c 0,10 -8,-8 -8,7.5 s 8,-2.5 8,7.5 v 5 H 29.5 l -6,4 -3,0 -6,-4 H 0 z "/><path fill="#266643" d="m 0,0 H 15 l 6,4 3,0 6,-4 H 416.33 v 5 c 0,10 -8,-8 -8,7.5 s 8,-2.5 8,7.5 v 5 H 29.5 l -6,4 -3,0 -6,-4 H 0 z "/><path class="l" stroke="rgb(103,148,123)" d="m 0.5,0.5 H 15 l 6,4 3,0 6,-4 H 415.83 M 415.83,0.5 M 411.33,19.3 l 3.68,-2.1 M 0.5,24.5 V 0.5 "/><text class="w" x="10" y="18" textLength="24">set </text><rect class="e" x="39" y="5" width="255.67" height="16" rx="4" ry="4"/><text class="k" x="44" y="18" textLength="229">A_continuació_descriute_breument</text><text class="a" fill="#266643" transform="translate(280.9,15.05) scale(1,0.9)">▾</text><text class="w dot" x="299.97" y="18">.</text><rect class="e" x="308.67" y="5" width="68.67" height="16" rx="4" ry="4"/><text class="k" x="313.67" y="18" textLength="42">Visible</text><text class="a" fill="#266643" transform="translate(363.57,15.05) scale(1,0.9)">▾</text><text class="w" x="382.33" y="18" textLength="16"> to</text><g transform="translate(417.33,0)"><path class="d" fill="rgb(95,137,52)" transform="translate(1,1)" d="m 0,0 H 67.67 v 25 H 0 V 20 c 0,-10 -8,8 -8,-7.5 s 8,2.5 8,-7.5 z "/><path fill="#77AB41" d="m 0,0 H 67.67 v 25 H 0 V 20 c 0,-10 -8,8 -8,-7.5 s 8,2.5 8,-7.5 z "/><path class="l" stroke="rgb(160,196,122)" d="m 0.5,0.5 H 67.17 M 67.17,0.5 M 0.5,24.5 V 18.5 m -7.36,-0.5 q -1.52,-5.5 0,-11 m 7.36,1 V 0.5 H 1 "/><rect class="e" x="5" y="5" width="57.67" height="16" rx="4" ry="4"/><text class="k" x="10" y="18" textLength="31">false</text><text class="a" fill="#77AB41" transform="translate(48.9,15.05) scale(1,0.9)">▾</text><rect class="wc" x="68.67" y="0" width="1" height="5.8"/><rect class="bc" x="68.67" y="5.8" width="1" height="4.2"/><rect class="wc" x="68.67" y="10" width="1" height="2.8"/><rect class="bc" x="68.67" y="12.8" width="1" height="1.2"/><rect class="wc" x="68.67" y="14" width="1" height="3"/><rect class="bc" x="68.67" y="17" width="1" height="3"/><rect class="wc" x="68.67" y="20" width="1" height="6"/></g><g transform="translate(0,26)"><rect class="pk" x="246.33" y="0" width="1" height="1"/><path class="d" fill="rgb(30,82,54)" transform="translate(1,1)" d="m 0,0 H 15 l 6,4 3,0 6,-4 H 246.33 v 5 c 0,10 -8,-8 -8,7.5 s 8,-2.5 8,7.5 v 5 H 29.5 l -6,4 -3,0 -6,-4 H 0 z "/><path fill="#266643" d="m 0,0 H 15 l 6,4 3,0 6,-4 H 246.33 v 5 c 0,10 -8,-8 -8,7.5 s 8,-2.5 8,7.5 v 5 H 29.5 l -6,4 -3,0 -6,-4 H 0 z "/><path class="l" stroke="rgb(103,148,123)" d="m 0.5,0.5 H 15 l 6,4 3,0 6,-4 H 245.83 M 245.83,0.5 M 241.33,19.3 l 3.68,-2.1 M 0.5,24.5 V 0.5 "/><text class="w" x="10" y="18" textLength="24">set </text><rect class="e" x="39" y="5" width="85.67" height="16" rx="4" ry="4"/><text class="k" x="44" y="18" textLength="59">BTN_FIN</text><text class="a" fill="#266643" transform="translate(110.9,15.05) scale(1,0.9)">▾</text><text class="w dot" x="129.97" y="18">.</text><rect class="e" x="138.67" y="5" width="68.67" height="16" rx="4" ry="4"/><text class="k" x="143.67" y="18" textLength="42">Visible</text><text class="a" fill="#266643" transform="translate(193.57,15.05) scale(1,0.9)">▾</text><text class="w" x="212.33" y="18" textLength="16"> to</text><g transform="translate(247.33,0)"><path class="d" fill="rgb(95,137,52)" transform="translate(1,1)" d="m 0,0 H 67.67 v 25 H 0 V 20 c 0,-10 -8,8 -8,-7.5 s 8,2.5 8,-7.5 z "/><path fill="#77AB41" d="m 0,0 H 67.67 v 25 H 0 V 20 c 0,-10 -8,8 -8,-7.5 s 8,2.5 8,-7.5 z "/><path class="l" stroke="rgb(160,196,122)" d="m 0.5,0.5 H 67.17 M 67.17,0.5 M 0.5,24.5 V 18.5 m -7.36,-0.5 q -1.52,-5.5 0,-11 m 7.36,1 V 0.5 H 1 "/><rect class="e" x="5" y="5" width="57.67" height="16" rx="4" ry="4"/><text class="k" x="10" y="18" textLength="31">false</text><text class="a" fill="#77AB41" transform="translate(48.9,15.05) scale(1,0.9)">▾</text><rect class="wc" x="68.67" y="0" width="1" height="5.8"/><rect class="bc" x="68.67" y="5.8" width="1" height="4.2"/><rect class="wc" x="68.67" y="10" width="1" height="2.8"/><rect class="bc" x="68.67" y="12.8" width="1" height="1.2"/><rect class="wc" x="68.67" y="14" width="1" height="3"/><rect class="bc" x="68.67" y="17" width="1" height="3"/><rect class="wc" x="68.67" y="20" width="1" height="6"/></g><g transform="translate(0,26)"><rect class="pk" x="224.33" y="0" width="1" height="1"/><path class="d" fill="rgb(30,82,54)" transform="translate(1,1)" d="m 0,0 H 15 l 6,4 3,0 6,-4 H 224.33 v 5 c 0,10 -8,-8 -8,7.5 s 8,-2.5 8,7.5 v 5 H 29.5 l -6,4 -3,0 -6,-4 H 0 z "/><path fill="#266643" d="m 0,0 H 15 l 6,4 3,0 6,-4 H 224.33 v 5 c 0,10 -8,-8 -8,7.5 s 8,-2.5 8,7.5 v 5 H 29.5 l -6,4 -3,0 -6,-4 H 0 z "/><path class="l" stroke="rgb(103,148,123)" d="m 0.5,0.5 H 15 l 6,4 3,0 6,-4 H 223.83 M 223.83,0.5 M 219.33,19.3 l 3.68,-2.1 M 0.5,24.5 V 0.5 "/><text class="w" x="10" y="18" textLength="24">set </text><rect class="e" x="39" y="5" width="63.67" height="16" rx="4" ry="4"/><text class="k" x="44" y="18" textLength="37">incifin</text><text class="a" fill="#266643" transform="translate(88.9,15.05) scale(1,0.9)">▾</text><text class="w dot" x="107.97" y="18">.</text><rect class="e" x="116.67" y="5" width="68.67" height="16" rx="4" ry="4"/><text class="k" x="121.67" y="18" textLength="42">Visible</text><text class="a" fill="#266643" transform="translate(171.57,15.05) scale(1,0.9)">▾</text><text class="w" x="190.33" y="18" textLength="16"> to</text><g transform="translate(225.33,0)"><path class="d" fill="rgb(95,137,52)" transform="translate(1,1)" d="m 0,0 H 67.67 v 25 H 0 V 20 c 0,-10 -8,8 -8,-7.5 s 8,2.5 8,-7.5 z "/><path fill="#77AB41" d="m 0,0 H 67.67 v 25 H 0 V 20 c 0,-10 -8,8 -8,-7.5 s 8,2.5 8,-7.5 z "/><path class="l" stroke="rgb(160,196,122)" d="m 0.5,0.5 H 67.17 M 67.17,0.5 M 0.5,24.5 V 18.5 m -7.36,-0.5 q -1.52,-5.5 0,-11 m 7.36,1 V 0.5 H 1 "/><rect class="e" x="5" y="5" width="57.67" height="16" rx="4" ry="4"/><text class="k" x="10" y="18" textLength="31">false</text><text class="a" fill="#77AB41" transform="translate(48.9,15.05) scale(1,0.9)">▾</text><rect class="wc" x="68.67" y="0" width="1" height="5.8"/><rect class="bc" x="68.67" y="5.8" width="1" height="4.2"/><rect class="wc" x="68.67" y="10" width="1" height="2.8"/><rect class="bc" x="68.67" y="12.8" width="1" height="1.2"/><rect class="wc" x="68.67" y="14" width="1" height="3"/><rect class="bc" x="68.67" y="17" width="1" height="3"/><rect class="wc" x="68.67" y="20" width="1" height="6"/></g><g transform="translate(0,26)"><rect class="pk" x="300.33" y="0" width="1" height="1"/><path class="d" fill="rgb(30,82,54)" transform="translate(1,1)" d="m 0,0 H 15 l 6,4 3,0 6,-4 H 300.33 v 5 c 0,10 -8,-8 -8,7.5 s 8,-2.5 8,7.5 v 5 H 29.5 l -6,4 -3,0 -6,-4 H 0 z "/><path fill="#266643" d="m 0,0 H 15 l 6,4 3,0 6,-4 H 300.33 v 5 c 0,10 -8,-8 -8,7.5 s 8,-2.5 8,7.5 v 5 H 29.5 l -6,4 -3,0 -6,-4 H 0 z "/><path class="l" stroke="rgb(103,148,123)" d="m 0.5,0.5 H 15 l 6,4 3,0 6,-4 H 299.83 M 299.83,0.5 M 295.33,19.3 l 3.68,-2.1 M 0.5,24.5 V 0.5 "/><text class="w" x="10" y="18" textLength="24">set </text><rect class="e" x="39" y="5" width="139.67" height="16" rx="4" ry="4"/><text class="k" x="44" y="18" textLength="113">BTN_Registrarse</text><text class="a" fill="#266643" transform="translate(164.9,15.05) scale(1,0.9)">▾</text><text class="w dot" x="183.97" y="18">.</text><rect class="e" x="192.67" y="5" width="68.67" height="16" rx="4" ry="4"/><text class="k" x="197.67" y="18" textLength="42">Visible</text><text class="a" fill="#266643" transform="translate(247.57,15.05) scale(1,0.9)">▾</text><text class="w" x="266.33" y="18" textLength="16"> to</text><g transform="translate(301.33,0)"><path class="d" fill="rgb(95,137,52)" transform="translate(1,1)" d="m 0,0 H 61.67 v 25 H 0 V 20 c 0,-10 -8,8 -8,-7.5 s 8,2.5 8,-7.5 z "/><path fill="#77AB41" d="m 0,0 H 61.67 v 25 H 0 V 20 c 0,-10 -8,8 -8,-7.5 s 8,2.5 8,-7.5 z "/><path class="l" stroke="rgb(160,196,122)" d="m 0.5,0.5 H 61.17 M 61.17,0.5 M 0.5,24.5 V 18.5 m -7.36,-0.5 q -1.52,-5.5 0,-11 m 7.36,1 V 0.5 H 1 "/><rect class="e" x="5" y="5" width="51.67" height="16" rx="4" ry="4"/><text class="k" x="10" y="18" textLength="25">true</text><text class="a" fill="#77AB41" transform="translate(42.9,15.05) scale(1,0.9)">▾</text><rect class="wc" x="62.67" y="0" width="1" height="5.8"/><rect class="bc" x="62.67" y="5.8" width="1" height="4.2"/><rect class="wc" x="62.67" y="10" width="1" height="2.8"/><rect class="bc" x="62.67" y="12.8" width="1" height="1.2"/><rect class="wc" x="62.67" y="14" width="1" height="3"/><rect class="bc" x="62.67" y="17" width="1" height="3"/><rect class="wc" x="62.67" y="20" width="1" height="6"/></g><g transform="translate(0,26)"><rect class="pk" x="286.33" y="0" width="1" height="1"/><path class="d" fill="rgb(30,82,54)" transform="translate(1,1)" d="m 0,0 H 15 l 6,4 3,0 6,-4 H 286.33 v 5 c 0,10 -8,-8 -8,7.5 s 8,-2.5 8,7.5 v 5 H 29.5 l -6,4 -3,0 -6,-4 H 8 a 8,8 0 0,1 -8,-8 z "/><path fill="#266643" d="m 0,0 H 15 l 6,4 3,0 6,-4 H 286.33 v 5 c 0,10 -8,-8 -8,7.5 s 8,-2.5 8,7.5 v 5 H 29.5 l -6,4 -3,0 -6,-4 H 8 a 8,8 0 0,1 -8,-8 z "/><path class="l" stroke="rgb(103,148,123)" d="m 0.5,0.5 H 15 l 6,4 3,0 6,-4 H 285.83 M 285.83,0.5 M 281.33,19.3 l 3.68,-2.1 M 2.7,22.3 A 7.5,7.5 0 0,1 0.5,17 V 0.5 "/><text class="w" x="10" y="18" textLength="24">set </text><rect class="e" x="39" y="5" width="125.67" height="16" rx="4" ry="4"/><text class="k" x="44" y="18" textLength="99">Volver_al_inicio</text><text class="a" fill="#266643" transform="translate(150.9,15.05) scale(1,0.9)">▾</text><text class="w dot" x="169.97" y="18">.</text><rect class="e" x="178.67" y="5" width="68.67" height="16" rx="4" ry="4"/><text class="k" x="183.67" y="18" textLength="42">Visible</text><text class="a" fill="#266643" transform="translate(233.57,15.05) scale(1,0.9)">▾</text><text class="w" x="252.33" y="18" textLength="16"> to</text><g transform="translate(287.33,0)"><path class="d" fill="rgb(95,137,52)" transform="translate(1,1)" d="m 0,0 H 61.67 v 25 H 0 V 20 c 0,-10 -8,8 -8,-7.5 s 8,2.5 8,-7.5 z "/><path fill="#77AB41" d="m 0,0 H 61.67 v 25 H 0 V 20 c 0,-10 -8,8 -8,-7.5 s 8,2.5 8,-7.5 z "/><path class="l" stroke="rgb(160,196,122)" d="m 0.5,0.5 H 61.17 M 61.17,0.5 M 0.5,24.5 V 18.5 m -7.36,-0.5 q -1.52,-5.5 0,-11 m 7.36,1 V 0.5 H 1 "/><rect class="e" x="5" y="5" width="51.67" height="16" rx="4" ry="4"/><text class="k" x="10" y="18" textLength="25">true</text><text class="a" fill="#77AB41" transform="translate(42.9,15.05) scale(1,0.9)">▾</text><rect class="wc" x="62.67" y="0" width="1" height="5.8"/><rect class="bc" x="62.67" y="5.8" width="1" height="4.2"/><rect class="wc" x="62.67" y="10" width="1" height="2.8"/><rect class="bc" x="62.67" y="12.8" width="1" height="1.2"/><rect class="wc" x="62.67" y="14" width="1" height="3"/><rect class="bc" x="62.67" y="17" width="1" height="3"/><rect class="wc" x="62.67" y="20" width="1" height="6"/></g></g></g></g></g></g></g></g></g></g></g></g></g></g></g></g></g></g></g></g></g></g></g></g></g></g></g></g></g></g>
</svg>
</body>
</html>
